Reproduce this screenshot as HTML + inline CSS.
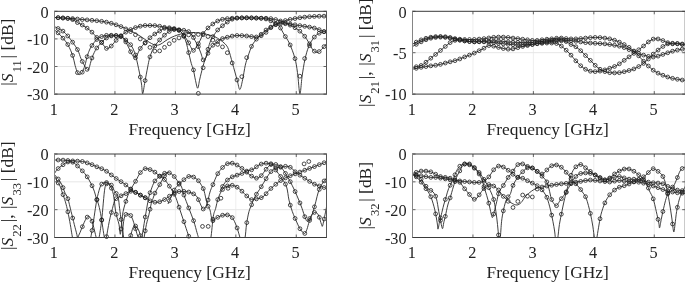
<!DOCTYPE html>
<html><head><meta charset="utf-8"><style>
html,body{margin:0;padding:0;background:#fff;width:685px;height:283px;overflow:hidden}
svg{display:block;font-family:"Liberation Serif", serif;fill:#000;will-change:transform;filter:blur(0.4px)}
text{fill:#222;font-family:"Liberation Serif", serif}
</style></head><body>
<svg width="685" height="283" viewBox="0 0 685 283">
<rect width="100%" height="100%" fill="#fff"/>
<defs><clipPath id="clip1"><rect x="54.50" y="11.30" width="272.00" height="82.80"/></clipPath><clipPath id="clip2"><rect x="412.50" y="11.30" width="272.70" height="82.80"/></clipPath><clipPath id="clip3"><rect x="54.50" y="154.00" width="272.00" height="83.50"/></clipPath><clipPath id="clip4"><rect x="412.50" y="154.00" width="272.70" height="83.50"/></clipPath></defs>
<path d="M114.94,11.30V94.10M175.39,11.30V94.10M235.83,11.30V94.10M296.28,11.30V94.10" stroke="#eeeeee" stroke-width="1" fill="none"/>
<path d="M54.50,38.90H326.50M54.50,66.50H326.50" stroke="#e6e6e6" stroke-width="1" fill="none"/>
<path d="M472.94,11.30V94.10M533.39,11.30V94.10M593.83,11.30V94.10M654.28,11.30V94.10" stroke="#eeeeee" stroke-width="1" fill="none"/>
<path d="M412.50,52.70H685.20" stroke="#e6e6e6" stroke-width="1" fill="none"/>
<path d="M114.94,154.00V237.50M175.39,154.00V237.50M235.83,154.00V237.50M296.28,154.00V237.50" stroke="#eeeeee" stroke-width="1" fill="none"/>
<path d="M54.50,181.83H326.50M54.50,209.67H326.50" stroke="#e6e6e6" stroke-width="1" fill="none"/>
<path d="M472.94,154.00V237.50M533.39,154.00V237.50M593.83,154.00V237.50M654.28,154.00V237.50" stroke="#eeeeee" stroke-width="1" fill="none"/>
<path d="M412.50,181.83H685.20M412.50,209.67H685.20" stroke="#e6e6e6" stroke-width="1" fill="none"/>
<g clip-path="url(#clip1)"><path d="M54.50,17.50C55.92,17.58 59.92,17.82 63.00,18.00C66.08,18.18 69.83,18.35 73.00,18.60C76.17,18.85 78.83,19.22 82.00,19.50C85.17,19.78 88.75,20.00 92.00,20.30C95.25,20.60 98.33,20.82 101.50,21.30C104.67,21.78 107.75,22.32 111.00,23.20C114.25,24.08 117.83,25.38 121.00,26.60C124.17,27.82 126.83,28.93 130.00,30.50C133.17,32.07 137.00,34.17 140.00,36.00C143.00,37.83 145.50,40.00 148.00,41.50C150.50,43.00 153.00,44.50 155.00,45.00C157.00,45.50 158.33,45.13 160.00,44.50C161.67,43.87 163.17,42.35 165.00,41.20C166.83,40.05 168.83,38.67 171.00,37.60C173.17,36.53 175.67,35.57 178.00,34.80C180.33,34.03 182.95,33.37 185.00,33.00C187.05,32.63 188.53,32.67 190.30,32.60C192.07,32.53 193.48,32.45 195.60,32.60C197.72,32.75 200.70,33.08 203.00,33.50C205.30,33.92 207.45,34.57 209.40,35.10C211.35,35.63 212.93,35.92 214.70,36.70C216.47,37.48 218.23,38.57 220.00,39.80C221.77,41.03 223.88,42.50 225.30,44.10C226.72,45.70 227.30,46.18 228.50,49.40C229.70,52.62 231.07,58.32 232.50,63.40C233.93,68.48 235.88,75.55 237.10,79.90C238.32,84.25 238.88,89.50 239.80,89.50C240.72,89.50 241.68,83.95 242.60,79.90C243.52,75.85 244.38,69.18 245.30,65.20C246.22,61.22 246.93,59.35 248.10,56.00C249.27,52.65 250.72,48.10 252.30,45.10C253.88,42.10 255.53,40.35 257.60,38.00C259.67,35.65 262.35,32.90 264.70,31.00C267.05,29.10 269.35,27.93 271.70,26.60C274.05,25.27 276.43,24.03 278.80,23.00C281.17,21.97 283.25,21.13 285.90,20.40C288.55,19.67 292.35,19.05 294.70,18.60C297.05,18.15 297.73,18.00 300.00,17.70C302.27,17.40 305.45,17.03 308.30,16.80C311.15,16.57 314.07,16.42 317.10,16.30C320.13,16.18 324.93,16.13 326.50,16.10" stroke="#2a2a2a" stroke-width="0.9" fill="none"/>
<path d="M54.50,17.50C55.92,17.58 60.75,17.83 63.00,18.00C65.25,18.17 66.40,18.23 68.00,18.50C69.60,18.77 71.05,18.93 72.60,19.60C74.15,20.27 75.72,21.62 77.30,22.50C78.88,23.38 80.50,23.98 82.10,24.90C83.70,25.82 85.32,26.85 86.90,28.00C88.48,29.15 90.02,30.30 91.60,31.80C93.18,33.30 94.75,35.25 96.40,37.00C98.05,38.75 100.18,40.75 101.50,42.30C102.82,43.85 103.38,45.25 104.30,46.30C105.22,47.35 106.05,48.43 107.00,48.60C107.95,48.77 109.00,48.07 110.00,47.30C111.00,46.53 112.00,45.13 113.00,44.00C114.00,42.87 114.83,41.75 116.00,40.50C117.17,39.25 118.30,37.93 120.00,36.50C121.70,35.07 123.98,33.25 126.20,31.90C128.42,30.55 130.95,29.35 133.30,28.40C135.65,27.45 138.35,26.68 140.30,26.20C142.25,25.72 143.38,25.62 145.00,25.50C146.62,25.38 148.35,25.48 150.00,25.50C151.65,25.52 153.25,25.47 154.90,25.60C156.55,25.73 158.25,26.00 159.90,26.30C161.55,26.60 163.15,26.98 164.80,27.40C166.45,27.82 168.10,28.47 169.80,28.80C171.50,29.13 173.30,29.23 175.00,29.40C176.70,29.57 178.50,29.65 180.00,29.80C181.50,29.95 182.63,30.05 184.00,30.30C185.37,30.55 186.87,30.52 188.20,31.30C189.53,32.08 190.87,33.47 192.00,35.00C193.13,36.53 194.03,38.75 195.00,40.50C195.97,42.25 196.83,43.43 197.80,45.50C198.77,47.57 199.80,50.40 200.80,52.90C201.80,55.40 202.65,60.35 203.80,60.50C204.95,60.65 206.55,55.90 207.70,53.80C208.85,51.70 209.63,49.53 210.70,47.90C211.77,46.27 213.05,44.98 214.10,44.00C215.15,43.02 215.82,42.82 217.00,42.00C218.18,41.18 219.32,39.93 221.20,39.10C223.08,38.27 225.95,37.58 228.30,37.00C230.65,36.42 232.95,35.83 235.30,35.60C237.65,35.37 240.03,35.48 242.40,35.60C244.77,35.72 247.38,36.07 249.50,36.30C251.62,36.53 253.35,37.00 255.10,37.00C256.85,37.00 258.25,37.02 260.00,36.30C261.75,35.58 263.65,34.25 265.60,32.70C267.55,31.15 269.63,28.45 271.70,27.00C273.77,25.55 275.15,24.52 278.00,24.00C280.85,23.48 285.52,23.68 288.80,23.90C292.08,24.12 294.75,24.85 297.70,25.30C300.65,25.75 303.57,26.10 306.50,26.60C309.43,27.10 312.65,27.57 315.30,28.30C317.95,29.03 320.53,30.27 322.40,31.00C324.27,31.73 325.82,32.42 326.50,32.70" stroke="#2a2a2a" stroke-width="0.9" fill="none"/>
<path d="M54.50,30.10C55.07,30.53 56.52,31.38 57.90,32.70C59.28,34.02 61.10,35.93 62.80,38.00C64.50,40.07 66.45,42.15 68.10,45.10C69.75,48.05 71.53,52.30 72.70,55.70C73.87,59.10 74.28,62.62 75.10,65.50C75.92,68.38 76.92,71.48 77.60,73.00C78.28,74.52 78.63,74.47 79.20,74.60C79.77,74.73 80.47,74.25 81.00,73.80C81.53,73.35 81.75,73.28 82.40,71.90C83.05,70.52 84.08,68.15 84.90,65.50C85.72,62.85 86.53,58.58 87.30,56.00C88.07,53.42 88.78,51.67 89.50,50.00C90.22,48.33 90.45,47.70 91.60,46.00C92.75,44.30 94.72,41.38 96.40,39.80C98.08,38.22 99.93,37.25 101.70,36.50C103.47,35.75 105.23,35.50 107.00,35.30C108.77,35.10 110.53,35.25 112.30,35.30C114.07,35.35 115.98,35.35 117.60,35.60C119.22,35.85 120.57,36.00 122.00,36.80C123.43,37.60 124.68,38.98 126.20,40.40C127.72,41.82 129.80,43.53 131.10,45.30C132.40,47.07 133.18,49.05 134.00,51.00C134.82,52.95 135.12,53.50 136.00,57.00C136.88,60.50 138.38,67.50 139.30,72.00C140.22,76.50 140.93,80.38 141.50,84.00C142.07,87.62 142.13,94.07 142.70,93.70C143.27,93.33 144.07,86.25 144.90,81.80C145.73,77.35 146.93,70.88 147.70,67.00C148.47,63.12 148.73,61.25 149.50,58.50C150.27,55.75 151.27,52.80 152.30,50.50C153.33,48.20 154.43,46.50 155.70,44.70C156.97,42.90 158.50,41.23 159.90,39.70C161.30,38.17 162.68,36.78 164.10,35.50C165.52,34.22 166.98,32.95 168.40,32.00C169.82,31.05 171.33,30.25 172.60,29.80C173.87,29.35 174.77,29.10 176.00,29.30C177.23,29.50 178.67,29.80 180.00,31.00C181.33,32.20 182.92,34.42 184.00,36.50C185.08,38.58 185.75,40.92 186.50,43.50C187.25,46.08 187.70,48.67 188.50,52.00C189.30,55.33 190.48,60.53 191.30,63.50C192.12,66.47 192.70,66.98 193.40,69.80C194.10,72.62 194.78,77.33 195.50,80.40C196.22,83.47 196.98,88.43 197.70,88.20C198.42,87.97 198.98,82.42 199.80,79.00C200.62,75.58 201.78,70.75 202.60,67.70C203.42,64.65 203.98,62.98 204.70,60.70C205.42,58.42 206.23,56.37 206.90,54.00C207.57,51.63 207.97,48.98 208.70,46.50C209.43,44.02 210.40,41.03 211.30,39.10C212.20,37.17 213.03,36.43 214.10,34.90C215.17,33.37 216.28,31.43 217.70,29.90C219.12,28.37 220.83,27.12 222.60,25.70C224.37,24.28 226.42,22.58 228.30,21.40C230.18,20.22 231.67,19.18 233.90,18.60C236.13,18.02 238.82,18.02 241.70,17.90C244.58,17.78 248.17,17.85 251.20,17.90C254.23,17.95 257.50,18.15 259.90,18.20C262.30,18.25 263.58,18.10 265.60,18.20C267.62,18.30 269.60,18.37 272.00,18.80C274.40,19.23 277.10,19.80 280.00,20.80C282.90,21.80 286.37,23.30 289.40,24.80C292.43,26.30 295.65,27.88 298.20,29.80C300.75,31.72 302.87,34.05 304.70,36.30C306.53,38.55 307.87,41.10 309.20,43.30C310.53,45.50 311.38,47.98 312.70,49.50C314.02,51.02 315.63,52.40 317.10,52.40C318.57,52.40 319.93,50.98 321.50,49.50C323.07,48.02 325.67,44.50 326.50,43.50" stroke="#2a2a2a" stroke-width="0.9" fill="none"/>
<path d="M54.50,26.60C55.07,26.90 56.52,27.67 57.90,28.40C59.28,29.13 61.10,29.68 62.80,31.00C64.50,32.32 66.33,34.25 68.10,36.30C69.87,38.35 71.77,40.95 73.40,43.30C75.03,45.65 76.67,47.93 77.90,50.40C79.13,52.87 79.97,56.05 80.80,58.10C81.63,60.15 82.22,61.33 82.90,62.70C83.58,64.07 84.17,65.17 84.90,66.30C85.63,67.43 86.63,69.10 87.30,69.50C87.97,69.90 88.08,70.73 88.90,68.70C89.72,66.67 90.95,60.65 92.20,57.30C93.45,53.95 94.97,50.93 96.40,48.60C97.83,46.27 99.33,44.92 100.80,43.30C102.27,41.68 103.67,40.08 105.20,38.90C106.73,37.72 108.37,36.72 110.00,36.20C111.63,35.68 113.33,35.80 115.00,35.80C116.67,35.80 118.50,35.67 120.00,36.20C121.50,36.73 122.60,37.20 124.00,39.00C125.40,40.80 127.07,44.42 128.40,47.00C129.73,49.58 130.93,52.68 132.00,54.50C133.07,56.32 134.03,57.65 134.80,57.90C135.57,58.15 135.80,57.38 136.60,56.00C137.40,54.62 138.67,51.28 139.60,49.60C140.53,47.92 141.25,47.08 142.20,45.90C143.15,44.72 143.97,43.90 145.30,42.50C146.63,41.10 148.62,38.92 150.20,37.50C151.78,36.08 153.27,35.05 154.80,34.00C156.33,32.95 157.85,32.13 159.40,31.20C160.95,30.27 162.33,28.97 164.10,28.40C165.87,27.83 168.18,27.73 170.00,27.80C171.82,27.87 173.33,28.27 175.00,28.80C176.67,29.33 178.50,29.88 180.00,31.00C181.50,32.12 182.72,33.83 184.00,35.50C185.28,37.17 186.62,39.17 187.70,41.00C188.78,42.83 189.55,44.93 190.50,46.50C191.45,48.07 192.27,50.58 193.40,50.40C194.53,50.22 196.07,47.30 197.30,45.40C198.53,43.50 199.87,40.92 200.80,39.00C201.73,37.08 201.72,35.73 202.90,33.90C204.08,32.07 206.25,29.65 207.90,28.00C209.55,26.35 211.17,25.17 212.80,24.00C214.43,22.83 216.07,21.78 217.70,21.00C219.33,20.22 220.95,19.70 222.60,19.30C224.25,18.90 225.95,18.78 227.60,18.60C229.25,18.42 230.15,18.32 232.50,18.20C234.85,18.08 238.58,17.95 241.70,17.90C244.82,17.85 248.17,17.85 251.20,17.90C254.23,17.95 257.65,18.08 259.90,18.20C262.15,18.32 262.73,18.08 264.70,18.60C266.67,19.12 269.35,20.12 271.70,21.30C274.05,22.48 276.73,23.50 278.80,25.70C280.87,27.90 282.33,31.57 284.10,34.50C285.87,37.43 287.62,39.40 289.40,43.30C291.18,47.20 293.45,53.02 294.80,57.90C296.15,62.78 296.65,66.63 297.50,72.60C298.35,78.57 299.13,93.10 299.90,93.70C300.67,94.30 301.27,81.87 302.10,76.20C302.93,70.53 303.82,64.60 304.90,59.70C305.98,54.80 307.15,50.42 308.60,46.80C310.05,43.18 311.95,40.20 313.60,38.00C315.25,35.80 316.88,34.62 318.50,33.60C320.12,32.58 321.97,32.33 323.30,31.90C324.63,31.47 325.97,31.15 326.50,31.00" stroke="#2a2a2a" stroke-width="0.9" fill="none"/></g><path d="M56.20,17.71a1.9,1.9 0 1,0 3.80,0a1.9,1.9 0 1,0 -3.80,0M61.04,18.00a1.9,1.9 0 1,0 3.80,0a1.9,1.9 0 1,0 -3.80,0M65.87,18.26a1.9,1.9 0 1,0 3.80,0a1.9,1.9 0 1,0 -3.80,0M70.70,18.57a1.9,1.9 0 1,0 3.80,0a1.9,1.9 0 1,0 -3.80,0M75.54,19.03a1.9,1.9 0 1,0 3.80,0a1.9,1.9 0 1,0 -3.80,0M80.37,19.52a1.9,1.9 0 1,0 3.80,0a1.9,1.9 0 1,0 -3.80,0M85.21,19.90a1.9,1.9 0 1,0 3.80,0a1.9,1.9 0 1,0 -3.80,0M90.04,20.30a1.9,1.9 0 1,0 3.80,0a1.9,1.9 0 1,0 -3.80,0M94.88,20.73a1.9,1.9 0 1,0 3.80,0a1.9,1.9 0 1,0 -3.80,0M99.71,21.32a1.9,1.9 0 1,0 3.80,0a1.9,1.9 0 1,0 -3.80,0M104.55,22.15a1.9,1.9 0 1,0 3.80,0a1.9,1.9 0 1,0 -3.80,0M109.38,23.28a1.9,1.9 0 1,0 3.80,0a1.9,1.9 0 1,0 -3.80,0M114.22,24.81a1.9,1.9 0 1,0 3.80,0a1.9,1.9 0 1,0 -3.80,0M119.05,26.58a1.9,1.9 0 1,0 3.80,0a1.9,1.9 0 1,0 -3.80,0M123.89,28.89a1.9,1.9 0 1,0 3.80,0a1.9,1.9 0 1,0 -3.80,0M128.72,31.58a1.9,1.9 0 1,0 3.80,0a1.9,1.9 0 1,0 -3.80,0M133.56,34.75a1.9,1.9 0 1,0 3.80,0a1.9,1.9 0 1,0 -3.80,0M138.39,38.95a1.9,1.9 0 1,0 3.80,0a1.9,1.9 0 1,0 -3.80,0M143.23,43.11a1.9,1.9 0 1,0 3.80,0a1.9,1.9 0 1,0 -3.80,0M148.06,47.37a1.9,1.9 0 1,0 3.80,0a1.9,1.9 0 1,0 -3.80,0M152.90,51.11a1.9,1.9 0 1,0 3.80,0a1.9,1.9 0 1,0 -3.80,0M157.73,50.91a1.9,1.9 0 1,0 3.80,0a1.9,1.9 0 1,0 -3.80,0M162.57,47.35a1.9,1.9 0 1,0 3.80,0a1.9,1.9 0 1,0 -3.80,0M167.40,43.78a1.9,1.9 0 1,0 3.80,0a1.9,1.9 0 1,0 -3.80,0M172.24,40.32a1.9,1.9 0 1,0 3.80,0a1.9,1.9 0 1,0 -3.80,0M177.07,37.93a1.9,1.9 0 1,0 3.80,0a1.9,1.9 0 1,0 -3.80,0M181.91,36.12a1.9,1.9 0 1,0 3.80,0a1.9,1.9 0 1,0 -3.80,0M186.75,34.93a1.9,1.9 0 1,0 3.80,0a1.9,1.9 0 1,0 -3.80,0M191.58,34.41a1.9,1.9 0 1,0 3.80,0a1.9,1.9 0 1,0 -3.80,0M196.42,34.46a1.9,1.9 0 1,0 3.80,0a1.9,1.9 0 1,0 -3.80,0M201.25,34.79a1.9,1.9 0 1,0 3.80,0a1.9,1.9 0 1,0 -3.80,0M206.09,36.55a1.9,1.9 0 1,0 3.80,0a1.9,1.9 0 1,0 -3.80,0M210.92,40.17a1.9,1.9 0 1,0 3.80,0a1.9,1.9 0 1,0 -3.80,0M215.76,44.40a1.9,1.9 0 1,0 3.80,0a1.9,1.9 0 1,0 -3.80,0M220.59,46.88a1.9,1.9 0 1,0 3.80,0a1.9,1.9 0 1,0 -3.80,0M225.43,52.74a1.9,1.9 0 1,0 3.80,0a1.9,1.9 0 1,0 -3.80,0M230.26,62.97a1.9,1.9 0 1,0 3.80,0a1.9,1.9 0 1,0 -3.80,0M235.10,79.96a1.9,1.9 0 1,0 3.80,0a1.9,1.9 0 1,0 -3.80,0M239.93,76.67a1.9,1.9 0 1,0 3.80,0a1.9,1.9 0 1,0 -3.80,0M244.77,57.66a1.9,1.9 0 1,0 3.80,0a1.9,1.9 0 1,0 -3.80,0M249.60,46.37a1.9,1.9 0 1,0 3.80,0a1.9,1.9 0 1,0 -3.80,0M254.44,39.16a1.9,1.9 0 1,0 3.80,0a1.9,1.9 0 1,0 -3.80,0M259.27,34.31a1.9,1.9 0 1,0 3.80,0a1.9,1.9 0 1,0 -3.80,0M264.11,30.01a1.9,1.9 0 1,0 3.80,0a1.9,1.9 0 1,0 -3.80,0M268.94,27.08a1.9,1.9 0 1,0 3.80,0a1.9,1.9 0 1,0 -3.80,0M273.78,24.47a1.9,1.9 0 1,0 3.80,0a1.9,1.9 0 1,0 -3.80,0M278.61,22.27a1.9,1.9 0 1,0 3.80,0a1.9,1.9 0 1,0 -3.80,0M283.44,20.56a1.9,1.9 0 1,0 3.80,0a1.9,1.9 0 1,0 -3.80,0M288.28,19.44a1.9,1.9 0 1,0 3.80,0a1.9,1.9 0 1,0 -3.80,0M293.11,18.54a1.9,1.9 0 1,0 3.80,0a1.9,1.9 0 1,0 -3.80,0M297.95,17.72a1.9,1.9 0 1,0 3.80,0a1.9,1.9 0 1,0 -3.80,0M302.78,17.14a1.9,1.9 0 1,0 3.80,0a1.9,1.9 0 1,0 -3.80,0M307.62,16.71a1.9,1.9 0 1,0 3.80,0a1.9,1.9 0 1,0 -3.80,0M312.45,16.42a1.9,1.9 0 1,0 3.80,0a1.9,1.9 0 1,0 -3.80,0M317.29,16.24a1.9,1.9 0 1,0 3.80,0a1.9,1.9 0 1,0 -3.80,0M322.12,16.14a1.9,1.9 0 1,0 3.80,0a1.9,1.9 0 1,0 -3.80,0M56.20,17.70a1.9,1.9 0 1,0 3.80,0a1.9,1.9 0 1,0 -3.80,0M61.04,18.00a1.9,1.9 0 1,0 3.80,0a1.9,1.9 0 1,0 -3.80,0M65.87,18.46a1.9,1.9 0 1,0 3.80,0a1.9,1.9 0 1,0 -3.80,0M70.70,19.60a1.9,1.9 0 1,0 3.80,0a1.9,1.9 0 1,0 -3.80,0M75.54,22.58a1.9,1.9 0 1,0 3.80,0a1.9,1.9 0 1,0 -3.80,0M80.37,25.00a1.9,1.9 0 1,0 3.80,0a1.9,1.9 0 1,0 -3.80,0M85.21,28.15a1.9,1.9 0 1,0 3.80,0a1.9,1.9 0 1,0 -3.80,0M90.04,32.13a1.9,1.9 0 1,0 3.80,0a1.9,1.9 0 1,0 -3.80,0M94.88,37.40a1.9,1.9 0 1,0 3.80,0a1.9,1.9 0 1,0 -3.80,0M99.71,42.44a1.9,1.9 0 1,0 3.80,0a1.9,1.9 0 1,0 -3.80,0M104.55,48.40a1.9,1.9 0 1,0 3.80,0a1.9,1.9 0 1,0 -3.80,0M109.38,46.04a1.9,1.9 0 1,0 3.80,0a1.9,1.9 0 1,0 -3.80,0M114.22,40.37a1.9,1.9 0 1,0 3.80,0a1.9,1.9 0 1,0 -3.80,0M119.05,35.71a1.9,1.9 0 1,0 3.80,0a1.9,1.9 0 1,0 -3.80,0M123.89,32.15a1.9,1.9 0 1,0 3.80,0a1.9,1.9 0 1,0 -3.80,0M128.72,29.56a1.9,1.9 0 1,0 3.80,0a1.9,1.9 0 1,0 -3.80,0M133.56,27.60a1.9,1.9 0 1,0 3.80,0a1.9,1.9 0 1,0 -3.80,0M138.39,26.20a1.9,1.9 0 1,0 3.80,0a1.9,1.9 0 1,0 -3.80,0M143.23,25.49a1.9,1.9 0 1,0 3.80,0a1.9,1.9 0 1,0 -3.80,0M148.06,25.50a1.9,1.9 0 1,0 3.80,0a1.9,1.9 0 1,0 -3.80,0M152.90,25.59a1.9,1.9 0 1,0 3.80,0a1.9,1.9 0 1,0 -3.80,0M157.73,26.25a1.9,1.9 0 1,0 3.80,0a1.9,1.9 0 1,0 -3.80,0M162.57,27.32a1.9,1.9 0 1,0 3.80,0a1.9,1.9 0 1,0 -3.80,0M167.40,28.69a1.9,1.9 0 1,0 3.80,0a1.9,1.9 0 1,0 -3.80,0M172.24,29.32a1.9,1.9 0 1,0 3.80,0a1.9,1.9 0 1,0 -3.80,0M177.07,29.71a1.9,1.9 0 1,0 3.80,0a1.9,1.9 0 1,0 -3.80,0M181.91,30.27a1.9,1.9 0 1,0 3.80,0a1.9,1.9 0 1,0 -3.80,0M186.75,31.58a1.9,1.9 0 1,0 3.80,0a1.9,1.9 0 1,0 -3.80,0M191.58,37.51a1.9,1.9 0 1,0 3.80,0a1.9,1.9 0 1,0 -3.80,0M196.42,46.65a1.9,1.9 0 1,0 3.80,0a1.9,1.9 0 1,0 -3.80,0M201.25,59.90a1.9,1.9 0 1,0 3.80,0a1.9,1.9 0 1,0 -3.80,0M206.09,53.26a1.9,1.9 0 1,0 3.80,0a1.9,1.9 0 1,0 -3.80,0M210.92,45.26a1.9,1.9 0 1,0 3.80,0a1.9,1.9 0 1,0 -3.80,0M215.76,41.51a1.9,1.9 0 1,0 3.80,0a1.9,1.9 0 1,0 -3.80,0M220.59,38.60a1.9,1.9 0 1,0 3.80,0a1.9,1.9 0 1,0 -3.80,0M225.43,37.24a1.9,1.9 0 1,0 3.80,0a1.9,1.9 0 1,0 -3.80,0M230.26,36.09a1.9,1.9 0 1,0 3.80,0a1.9,1.9 0 1,0 -3.80,0M235.10,35.49a1.9,1.9 0 1,0 3.80,0a1.9,1.9 0 1,0 -3.80,0M239.93,35.57a1.9,1.9 0 1,0 3.80,0a1.9,1.9 0 1,0 -3.80,0M244.77,35.97a1.9,1.9 0 1,0 3.80,0a1.9,1.9 0 1,0 -3.80,0M249.60,36.58a1.9,1.9 0 1,0 3.80,0a1.9,1.9 0 1,0 -3.80,0M254.44,36.99a1.9,1.9 0 1,0 3.80,0a1.9,1.9 0 1,0 -3.80,0M259.27,35.74a1.9,1.9 0 1,0 3.80,0a1.9,1.9 0 1,0 -3.80,0M264.11,32.36a1.9,1.9 0 1,0 3.80,0a1.9,1.9 0 1,0 -3.80,0M268.94,27.67a1.9,1.9 0 1,0 3.80,0a1.9,1.9 0 1,0 -3.80,0M273.78,24.64a1.9,1.9 0 1,0 3.80,0a1.9,1.9 0 1,0 -3.80,0M278.61,23.73a1.9,1.9 0 1,0 3.80,0a1.9,1.9 0 1,0 -3.80,0M283.44,23.72a1.9,1.9 0 1,0 3.80,0a1.9,1.9 0 1,0 -3.80,0M288.28,24.02a1.9,1.9 0 1,0 3.80,0a1.9,1.9 0 1,0 -3.80,0M293.11,24.82a1.9,1.9 0 1,0 3.80,0a1.9,1.9 0 1,0 -3.80,0M297.95,25.61a1.9,1.9 0 1,0 3.80,0a1.9,1.9 0 1,0 -3.80,0M302.78,26.31a1.9,1.9 0 1,0 3.80,0a1.9,1.9 0 1,0 -3.80,0M307.62,27.10a1.9,1.9 0 1,0 3.80,0a1.9,1.9 0 1,0 -3.80,0M312.45,28.06a1.9,1.9 0 1,0 3.80,0a1.9,1.9 0 1,0 -3.80,0M317.29,29.67a1.9,1.9 0 1,0 3.80,0a1.9,1.9 0 1,0 -3.80,0M322.12,31.66a1.9,1.9 0 1,0 3.80,0a1.9,1.9 0 1,0 -3.80,0M56.20,32.89a1.9,1.9 0 1,0 3.80,0a1.9,1.9 0 1,0 -3.80,0M61.04,38.16a1.9,1.9 0 1,0 3.80,0a1.9,1.9 0 1,0 -3.80,0M65.87,44.53a1.9,1.9 0 1,0 3.80,0a1.9,1.9 0 1,0 -3.80,0M70.70,55.43a1.9,1.9 0 1,0 3.80,0a1.9,1.9 0 1,0 -3.80,0M75.54,72.63a1.9,1.9 0 1,0 3.80,0a1.9,1.9 0 1,0 -3.80,0M80.37,72.16a1.9,1.9 0 1,0 3.80,0a1.9,1.9 0 1,0 -3.80,0M85.21,56.67a1.9,1.9 0 1,0 3.80,0a1.9,1.9 0 1,0 -3.80,0M90.04,45.49a1.9,1.9 0 1,0 3.80,0a1.9,1.9 0 1,0 -3.80,0M94.88,39.46a1.9,1.9 0 1,0 3.80,0a1.9,1.9 0 1,0 -3.80,0M99.71,36.54a1.9,1.9 0 1,0 3.80,0a1.9,1.9 0 1,0 -3.80,0M104.55,35.36a1.9,1.9 0 1,0 3.80,0a1.9,1.9 0 1,0 -3.80,0M109.38,35.26a1.9,1.9 0 1,0 3.80,0a1.9,1.9 0 1,0 -3.80,0M114.22,35.44a1.9,1.9 0 1,0 3.80,0a1.9,1.9 0 1,0 -3.80,0M119.05,36.32a1.9,1.9 0 1,0 3.80,0a1.9,1.9 0 1,0 -3.80,0M123.89,40.01a1.9,1.9 0 1,0 3.80,0a1.9,1.9 0 1,0 -3.80,0M128.72,44.70a1.9,1.9 0 1,0 3.80,0a1.9,1.9 0 1,0 -3.80,0M133.56,54.97a1.9,1.9 0 1,0 3.80,0a1.9,1.9 0 1,0 -3.80,0M138.39,77.06a1.9,1.9 0 1,0 3.80,0a1.9,1.9 0 1,0 -3.80,0M143.23,80.57a1.9,1.9 0 1,0 3.80,0a1.9,1.9 0 1,0 -3.80,0M148.06,56.90a1.9,1.9 0 1,0 3.80,0a1.9,1.9 0 1,0 -3.80,0M152.90,46.01a1.9,1.9 0 1,0 3.80,0a1.9,1.9 0 1,0 -3.80,0M157.73,39.99a1.9,1.9 0 1,0 3.80,0a1.9,1.9 0 1,0 -3.80,0M162.57,35.17a1.9,1.9 0 1,0 3.80,0a1.9,1.9 0 1,0 -3.80,0M167.40,31.42a1.9,1.9 0 1,0 3.80,0a1.9,1.9 0 1,0 -3.80,0M172.24,29.34a1.9,1.9 0 1,0 3.80,0a1.9,1.9 0 1,0 -3.80,0M177.07,30.25a1.9,1.9 0 1,0 3.80,0a1.9,1.9 0 1,0 -3.80,0M181.91,36.14a1.9,1.9 0 1,0 3.80,0a1.9,1.9 0 1,0 -3.80,0M186.75,52.61a1.9,1.9 0 1,0 3.80,0a1.9,1.9 0 1,0 -3.80,0M191.58,69.92a1.9,1.9 0 1,0 3.80,0a1.9,1.9 0 1,0 -3.80,0M196.42,93.36a1.9,1.9 0 1,0 3.80,0a1.9,1.9 0 1,0 -3.80,0M201.25,67.74a1.9,1.9 0 1,0 3.80,0a1.9,1.9 0 1,0 -3.80,0M206.09,49.29a1.9,1.9 0 1,0 3.80,0a1.9,1.9 0 1,0 -3.80,0M210.92,36.61a1.9,1.9 0 1,0 3.80,0a1.9,1.9 0 1,0 -3.80,0M215.76,29.95a1.9,1.9 0 1,0 3.80,0a1.9,1.9 0 1,0 -3.80,0M220.59,25.79a1.9,1.9 0 1,0 3.80,0a1.9,1.9 0 1,0 -3.80,0M225.43,22.05a1.9,1.9 0 1,0 3.80,0a1.9,1.9 0 1,0 -3.80,0M230.26,19.20a1.9,1.9 0 1,0 3.80,0a1.9,1.9 0 1,0 -3.80,0M235.10,18.12a1.9,1.9 0 1,0 3.80,0a1.9,1.9 0 1,0 -3.80,0M239.93,17.90a1.9,1.9 0 1,0 3.80,0a1.9,1.9 0 1,0 -3.80,0M244.77,17.84a1.9,1.9 0 1,0 3.80,0a1.9,1.9 0 1,0 -3.80,0M249.60,17.91a1.9,1.9 0 1,0 3.80,0a1.9,1.9 0 1,0 -3.80,0M254.44,18.07a1.9,1.9 0 1,0 3.80,0a1.9,1.9 0 1,0 -3.80,0M259.27,18.21a1.9,1.9 0 1,0 3.80,0a1.9,1.9 0 1,0 -3.80,0M264.11,18.22a1.9,1.9 0 1,0 3.80,0a1.9,1.9 0 1,0 -3.80,0M268.94,18.61a1.9,1.9 0 1,0 3.80,0a1.9,1.9 0 1,0 -3.80,0M273.78,19.56a1.9,1.9 0 1,0 3.80,0a1.9,1.9 0 1,0 -3.80,0M278.61,20.98a1.9,1.9 0 1,0 3.80,0a1.9,1.9 0 1,0 -3.80,0M283.44,22.91a1.9,1.9 0 1,0 3.80,0a1.9,1.9 0 1,0 -3.80,0M288.28,25.19a1.9,1.9 0 1,0 3.80,0a1.9,1.9 0 1,0 -3.80,0M293.11,27.73a1.9,1.9 0 1,0 3.80,0a1.9,1.9 0 1,0 -3.80,0M297.95,31.15a1.9,1.9 0 1,0 3.80,0a1.9,1.9 0 1,0 -3.80,0M302.78,36.28a1.9,1.9 0 1,0 3.80,0a1.9,1.9 0 1,0 -3.80,0M307.62,43.85a1.9,1.9 0 1,0 3.80,0a1.9,1.9 0 1,0 -3.80,0M312.45,51.14a1.9,1.9 0 1,0 3.80,0a1.9,1.9 0 1,0 -3.80,0M317.29,51.56a1.9,1.9 0 1,0 3.80,0a1.9,1.9 0 1,0 -3.80,0M322.12,46.63a1.9,1.9 0 1,0 3.80,0a1.9,1.9 0 1,0 -3.80,0M56.20,28.50a1.9,1.9 0 1,0 3.80,0a1.9,1.9 0 1,0 -3.80,0M61.04,31.11a1.9,1.9 0 1,0 3.80,0a1.9,1.9 0 1,0 -3.80,0M65.87,35.92a1.9,1.9 0 1,0 3.80,0a1.9,1.9 0 1,0 -3.80,0M70.70,42.17a1.9,1.9 0 1,0 3.80,0a1.9,1.9 0 1,0 -3.80,0M75.54,49.52a1.9,1.9 0 1,0 3.80,0a1.9,1.9 0 1,0 -3.80,0M80.37,61.43a1.9,1.9 0 1,0 3.80,0a1.9,1.9 0 1,0 -3.80,0M85.21,69.36a1.9,1.9 0 1,0 3.80,0a1.9,1.9 0 1,0 -3.80,0M90.04,58.02a1.9,1.9 0 1,0 3.80,0a1.9,1.9 0 1,0 -3.80,0M94.88,48.01a1.9,1.9 0 1,0 3.80,0a1.9,1.9 0 1,0 -3.80,0M99.71,42.40a1.9,1.9 0 1,0 3.80,0a1.9,1.9 0 1,0 -3.80,0M104.55,38.00a1.9,1.9 0 1,0 3.80,0a1.9,1.9 0 1,0 -3.80,0M109.38,35.91a1.9,1.9 0 1,0 3.80,0a1.9,1.9 0 1,0 -3.80,0M114.22,35.79a1.9,1.9 0 1,0 3.80,0a1.9,1.9 0 1,0 -3.80,0M119.05,36.56a1.9,1.9 0 1,0 3.80,0a1.9,1.9 0 1,0 -3.80,0M123.89,41.89a1.9,1.9 0 1,0 3.80,0a1.9,1.9 0 1,0 -3.80,0M128.72,51.75a1.9,1.9 0 1,0 3.80,0a1.9,1.9 0 1,0 -3.80,0M133.56,57.80a1.9,1.9 0 1,0 3.80,0a1.9,1.9 0 1,0 -3.80,0M138.39,48.43a1.9,1.9 0 1,0 3.80,0a1.9,1.9 0 1,0 -3.80,0M143.23,42.68a1.9,1.9 0 1,0 3.80,0a1.9,1.9 0 1,0 -3.80,0M148.06,37.71a1.9,1.9 0 1,0 3.80,0a1.9,1.9 0 1,0 -3.80,0M152.90,34.00a1.9,1.9 0 1,0 3.80,0a1.9,1.9 0 1,0 -3.80,0M157.73,31.06a1.9,1.9 0 1,0 3.80,0a1.9,1.9 0 1,0 -3.80,0M162.57,28.29a1.9,1.9 0 1,0 3.80,0a1.9,1.9 0 1,0 -3.80,0M167.40,27.78a1.9,1.9 0 1,0 3.80,0a1.9,1.9 0 1,0 -3.80,0M172.24,28.53a1.9,1.9 0 1,0 3.80,0a1.9,1.9 0 1,0 -3.80,0M177.07,30.34a1.9,1.9 0 1,0 3.80,0a1.9,1.9 0 1,0 -3.80,0M181.91,35.25a1.9,1.9 0 1,0 3.80,0a1.9,1.9 0 1,0 -3.80,0M186.75,42.79a1.9,1.9 0 1,0 3.80,0a1.9,1.9 0 1,0 -3.80,0M191.58,50.38a1.9,1.9 0 1,0 3.80,0a1.9,1.9 0 1,0 -3.80,0M196.42,43.73a1.9,1.9 0 1,0 3.80,0a1.9,1.9 0 1,0 -3.80,0M201.25,33.53a1.9,1.9 0 1,0 3.80,0a1.9,1.9 0 1,0 -3.80,0M206.09,27.92a1.9,1.9 0 1,0 3.80,0a1.9,1.9 0 1,0 -3.80,0M210.92,23.99a1.9,1.9 0 1,0 3.80,0a1.9,1.9 0 1,0 -3.80,0M215.76,21.02a1.9,1.9 0 1,0 3.80,0a1.9,1.9 0 1,0 -3.80,0M220.59,19.33a1.9,1.9 0 1,0 3.80,0a1.9,1.9 0 1,0 -3.80,0M225.43,18.63a1.9,1.9 0 1,0 3.80,0a1.9,1.9 0 1,0 -3.80,0M230.26,18.22a1.9,1.9 0 1,0 3.80,0a1.9,1.9 0 1,0 -3.80,0M235.10,18.02a1.9,1.9 0 1,0 3.80,0a1.9,1.9 0 1,0 -3.80,0M239.93,17.90a1.9,1.9 0 1,0 3.80,0a1.9,1.9 0 1,0 -3.80,0M244.77,17.86a1.9,1.9 0 1,0 3.80,0a1.9,1.9 0 1,0 -3.80,0M249.60,17.91a1.9,1.9 0 1,0 3.80,0a1.9,1.9 0 1,0 -3.80,0M254.44,18.04a1.9,1.9 0 1,0 3.80,0a1.9,1.9 0 1,0 -3.80,0M259.27,18.24a1.9,1.9 0 1,0 3.80,0a1.9,1.9 0 1,0 -3.80,0M264.11,18.98a1.9,1.9 0 1,0 3.80,0a1.9,1.9 0 1,0 -3.80,0M268.94,20.88a1.9,1.9 0 1,0 3.80,0a1.9,1.9 0 1,0 -3.80,0M273.78,23.30a1.9,1.9 0 1,0 3.80,0a1.9,1.9 0 1,0 -3.80,0M278.61,28.00a1.9,1.9 0 1,0 3.80,0a1.9,1.9 0 1,0 -3.80,0M283.44,36.52a1.9,1.9 0 1,0 3.80,0a1.9,1.9 0 1,0 -3.80,0M288.28,44.97a1.9,1.9 0 1,0 3.80,0a1.9,1.9 0 1,0 -3.80,0M293.11,58.66a1.9,1.9 0 1,0 3.80,0a1.9,1.9 0 1,0 -3.80,0M297.95,76.18a1.9,1.9 0 1,0 3.80,0a1.9,1.9 0 1,0 -3.80,0M302.78,58.52a1.9,1.9 0 1,0 3.80,0a1.9,1.9 0 1,0 -3.80,0M307.62,45.61a1.9,1.9 0 1,0 3.80,0a1.9,1.9 0 1,0 -3.80,0M312.45,37.05a1.9,1.9 0 1,0 3.80,0a1.9,1.9 0 1,0 -3.80,0M317.29,33.22a1.9,1.9 0 1,0 3.80,0a1.9,1.9 0 1,0 -3.80,0M322.12,31.67a1.9,1.9 0 1,0 3.80,0a1.9,1.9 0 1,0 -3.80,0" stroke="#1e1e1e" stroke-width="0.8" fill="none"/>
<g clip-path="url(#clip2)"><path d="M412.50,44.10C413.88,43.42 417.93,41.12 420.80,40.00C423.67,38.88 426.75,37.98 429.70,37.40C432.65,36.82 435.57,36.57 438.50,36.50C441.43,36.43 444.35,36.62 447.30,37.00C450.25,37.38 453.25,38.38 456.20,38.80C459.15,39.22 461.87,39.40 465.00,39.50C468.13,39.60 471.67,39.57 475.00,39.40C478.33,39.23 481.67,38.87 485.00,38.50C488.33,38.13 491.67,37.42 495.00,37.20C498.33,36.98 501.67,37.02 505.00,37.20C508.33,37.38 511.67,37.92 515.00,38.30C518.33,38.68 521.67,39.13 525.00,39.50C528.33,39.87 531.67,40.52 535.00,40.50C538.33,40.48 542.17,39.68 545.00,39.40C547.83,39.12 549.50,39.03 552.00,38.80C554.50,38.57 557.20,38.00 560.00,38.00C562.80,38.00 565.85,38.67 568.80,38.80C571.75,38.93 574.75,38.93 577.70,38.80C580.65,38.67 583.57,38.23 586.50,38.00C589.43,37.77 592.35,37.40 595.30,37.40C598.25,37.40 601.25,37.62 604.20,38.00C607.15,38.38 610.07,38.82 613.00,39.70C615.93,40.58 618.85,41.83 621.80,43.30C624.75,44.77 628.17,46.72 630.70,48.50C633.23,50.28 634.75,51.77 637.00,54.00C639.25,56.23 641.38,59.12 644.20,61.90C647.02,64.68 650.67,68.43 653.90,70.70C657.13,72.97 660.37,74.20 663.60,75.50C666.83,76.80 669.65,77.67 673.30,78.50C676.95,79.33 683.47,80.17 685.50,80.50" stroke="#2a2a2a" stroke-width="0.9" fill="none"/>
<path d="M412.50,46.50C413.88,45.75 417.93,43.33 420.80,42.00C423.67,40.67 426.75,39.30 429.70,38.50C432.65,37.70 435.57,37.35 438.50,37.20C441.43,37.05 444.35,37.22 447.30,37.60C450.25,37.98 453.25,38.93 456.20,39.50C459.15,40.07 462.07,40.62 465.00,41.00C467.93,41.38 470.85,41.72 473.80,41.80C476.75,41.88 480.00,41.63 482.70,41.50C485.40,41.37 487.12,41.08 490.00,41.00C492.88,40.92 496.67,40.83 500.00,41.00C503.33,41.17 506.67,41.75 510.00,42.00C513.33,42.25 516.67,42.42 520.00,42.50C523.33,42.58 526.67,42.67 530.00,42.50C533.33,42.33 536.67,41.83 540.00,41.50C543.33,41.17 546.67,40.80 550.00,40.50C553.33,40.20 556.87,39.68 560.00,39.70C563.13,39.72 565.85,40.30 568.80,40.60C571.75,40.90 574.75,41.15 577.70,41.50C580.65,41.85 583.57,42.40 586.50,42.70C589.43,43.00 592.35,43.12 595.30,43.30C598.25,43.48 601.25,43.52 604.20,43.80C607.15,44.08 610.07,44.50 613.00,45.00C615.93,45.50 618.97,45.97 621.80,46.80C624.63,47.63 627.63,49.05 630.00,50.00C632.37,50.95 633.50,51.58 636.00,52.50C638.50,53.42 642.02,54.75 645.00,55.50C647.98,56.25 650.80,57.22 653.90,57.00C657.00,56.78 660.37,55.20 663.60,54.20C666.83,53.20 669.65,51.95 673.30,51.00C676.95,50.05 683.47,48.92 685.50,48.50" stroke="#2a2a2a" stroke-width="0.9" fill="none"/>
<path d="M412.50,67.40C413.88,67.10 418.53,66.48 420.80,65.60C423.07,64.72 424.33,63.42 426.10,62.10C427.87,60.78 429.77,59.02 431.40,57.70C433.03,56.38 434.42,55.38 435.90,54.20C437.38,53.02 438.68,51.93 440.30,50.60C441.92,49.27 443.98,47.52 445.60,46.20C447.22,44.88 448.53,43.65 450.00,42.70C451.47,41.75 452.78,40.95 454.40,40.50C456.02,40.05 457.93,39.93 459.70,40.00C461.47,40.07 462.65,40.60 465.00,40.90C467.35,41.20 470.85,41.65 473.80,41.80C476.75,41.95 479.67,41.68 482.70,41.80C485.73,41.92 489.12,42.22 492.00,42.50C494.88,42.78 497.00,43.17 500.00,43.50C503.00,43.83 506.67,44.25 510.00,44.50C513.33,44.75 516.67,45.00 520.00,45.00C523.33,45.00 526.67,44.75 530.00,44.50C533.33,44.25 536.67,43.75 540.00,43.50C543.33,43.25 547.00,42.92 550.00,43.00C553.00,43.08 555.45,42.93 558.00,44.00C560.55,45.07 563.20,47.62 565.30,49.40C567.40,51.18 568.83,52.78 570.60,54.70C572.37,56.62 574.13,58.98 575.90,60.90C577.67,62.82 579.43,64.72 581.20,66.20C582.97,67.68 584.73,68.92 586.50,69.80C588.27,70.68 590.03,71.22 591.80,71.50C593.57,71.78 595.33,71.65 597.10,71.50C598.87,71.35 600.63,71.03 602.40,70.60C604.17,70.17 605.93,69.48 607.70,68.90C609.47,68.32 611.23,67.83 613.00,67.10C614.77,66.37 616.35,65.68 618.30,64.50C620.25,63.32 622.02,61.92 624.70,60.00C627.38,58.08 631.15,55.42 634.40,53.00C637.65,50.58 641.77,47.42 644.20,45.50C646.63,43.58 647.45,42.58 649.00,41.50C650.55,40.42 651.95,39.42 653.50,39.00C655.05,38.58 656.72,38.73 658.30,39.00C659.88,39.27 661.42,39.98 663.00,40.60C664.58,41.22 666.20,42.17 667.80,42.70C669.40,43.23 671.02,43.62 672.60,43.80C674.18,43.98 675.15,43.60 677.30,43.80C679.45,44.00 684.13,44.80 685.50,45.00" stroke="#2a2a2a" stroke-width="0.9" fill="none"/>
<path d="M412.50,69.20C413.88,68.90 417.93,67.93 420.80,67.40C423.67,66.87 426.75,66.43 429.70,66.00C432.65,65.57 435.57,65.38 438.50,64.80C441.43,64.22 444.35,63.25 447.30,62.50C450.25,61.75 453.25,61.25 456.20,60.30C459.15,59.35 462.07,57.97 465.00,56.80C467.93,55.63 470.85,54.62 473.80,53.30C476.75,51.98 480.17,50.20 482.70,48.90C485.23,47.60 486.95,45.90 489.00,45.50C491.05,45.10 493.17,46.12 495.00,46.50C496.83,46.88 498.33,47.42 500.00,47.80C501.67,48.18 503.33,48.57 505.00,48.80C506.67,49.03 508.33,49.25 510.00,49.20C511.67,49.15 513.33,48.87 515.00,48.50C516.67,48.13 518.33,47.42 520.00,47.00C521.67,46.58 523.33,46.33 525.00,46.00C526.67,45.67 527.50,45.50 530.00,45.00C532.50,44.50 536.67,43.58 540.00,43.00C543.33,42.42 546.67,41.87 550.00,41.50C553.33,41.13 557.33,40.80 560.00,40.80C562.67,40.80 564.33,40.97 566.00,41.50C567.67,42.03 568.35,43.12 570.00,44.00C571.65,44.88 574.03,45.60 575.90,46.80C577.77,48.00 579.43,49.58 581.20,51.20C582.97,52.82 584.73,54.73 586.50,56.50C588.27,58.27 590.03,60.03 591.80,61.80C593.57,63.57 595.33,65.63 597.10,67.10C598.87,68.57 600.63,69.72 602.40,70.60C604.17,71.48 605.93,72.03 607.70,72.40C609.47,72.77 611.23,72.73 613.00,72.80C614.77,72.87 616.35,73.00 618.30,72.80C620.25,72.60 622.02,72.28 624.70,71.60C627.38,70.92 631.15,70.15 634.40,68.70C637.65,67.25 640.95,65.43 644.20,62.90C647.45,60.37 650.67,56.32 653.90,53.50C657.13,50.68 661.02,47.67 663.60,46.00C666.18,44.33 667.13,43.92 669.40,43.50C671.67,43.08 674.52,43.35 677.20,43.50C679.88,43.65 684.12,44.25 685.50,44.40" stroke="#2a2a2a" stroke-width="0.9" fill="none"/></g><path d="M414.40,42.11a1.9,1.9 0 1,0 3.80,0a1.9,1.9 0 1,0 -3.80,0M419.24,39.87a1.9,1.9 0 1,0 3.80,0a1.9,1.9 0 1,0 -3.80,0M424.07,38.29a1.9,1.9 0 1,0 3.80,0a1.9,1.9 0 1,0 -3.80,0M428.90,37.20a1.9,1.9 0 1,0 3.80,0a1.9,1.9 0 1,0 -3.80,0M433.74,36.63a1.9,1.9 0 1,0 3.80,0a1.9,1.9 0 1,0 -3.80,0M438.57,36.49a1.9,1.9 0 1,0 3.80,0a1.9,1.9 0 1,0 -3.80,0M443.41,36.77a1.9,1.9 0 1,0 3.80,0a1.9,1.9 0 1,0 -3.80,0M448.24,37.52a1.9,1.9 0 1,0 3.80,0a1.9,1.9 0 1,0 -3.80,0M453.08,38.60a1.9,1.9 0 1,0 3.80,0a1.9,1.9 0 1,0 -3.80,0M457.91,39.21a1.9,1.9 0 1,0 3.80,0a1.9,1.9 0 1,0 -3.80,0M462.75,39.49a1.9,1.9 0 1,0 3.80,0a1.9,1.9 0 1,0 -3.80,0M467.58,39.55a1.9,1.9 0 1,0 3.80,0a1.9,1.9 0 1,0 -3.80,0M472.42,39.43a1.9,1.9 0 1,0 3.80,0a1.9,1.9 0 1,0 -3.80,0M477.25,39.10a1.9,1.9 0 1,0 3.80,0a1.9,1.9 0 1,0 -3.80,0M482.09,38.61a1.9,1.9 0 1,0 3.80,0a1.9,1.9 0 1,0 -3.80,0M486.92,37.97a1.9,1.9 0 1,0 3.80,0a1.9,1.9 0 1,0 -3.80,0M491.76,37.31a1.9,1.9 0 1,0 3.80,0a1.9,1.9 0 1,0 -3.80,0M496.59,37.06a1.9,1.9 0 1,0 3.80,0a1.9,1.9 0 1,0 -3.80,0M501.43,37.12a1.9,1.9 0 1,0 3.80,0a1.9,1.9 0 1,0 -3.80,0M506.26,37.46a1.9,1.9 0 1,0 3.80,0a1.9,1.9 0 1,0 -3.80,0M511.10,38.06a1.9,1.9 0 1,0 3.80,0a1.9,1.9 0 1,0 -3.80,0M515.93,38.64a1.9,1.9 0 1,0 3.80,0a1.9,1.9 0 1,0 -3.80,0M520.77,39.23a1.9,1.9 0 1,0 3.80,0a1.9,1.9 0 1,0 -3.80,0M525.60,39.81a1.9,1.9 0 1,0 3.80,0a1.9,1.9 0 1,0 -3.80,0M530.44,40.39a1.9,1.9 0 1,0 3.80,0a1.9,1.9 0 1,0 -3.80,0M535.27,40.40a1.9,1.9 0 1,0 3.80,0a1.9,1.9 0 1,0 -3.80,0M540.11,39.79a1.9,1.9 0 1,0 3.80,0a1.9,1.9 0 1,0 -3.80,0M544.94,39.23a1.9,1.9 0 1,0 3.80,0a1.9,1.9 0 1,0 -3.80,0M549.78,38.83a1.9,1.9 0 1,0 3.80,0a1.9,1.9 0 1,0 -3.80,0M554.62,38.24a1.9,1.9 0 1,0 3.80,0a1.9,1.9 0 1,0 -3.80,0M559.45,38.05a1.9,1.9 0 1,0 3.80,0a1.9,1.9 0 1,0 -3.80,0M564.29,38.57a1.9,1.9 0 1,0 3.80,0a1.9,1.9 0 1,0 -3.80,0M569.12,38.87a1.9,1.9 0 1,0 3.80,0a1.9,1.9 0 1,0 -3.80,0M573.96,38.87a1.9,1.9 0 1,0 3.80,0a1.9,1.9 0 1,0 -3.80,0M578.79,38.58a1.9,1.9 0 1,0 3.80,0a1.9,1.9 0 1,0 -3.80,0M583.63,38.08a1.9,1.9 0 1,0 3.80,0a1.9,1.9 0 1,0 -3.80,0M588.46,37.66a1.9,1.9 0 1,0 3.80,0a1.9,1.9 0 1,0 -3.80,0M593.30,37.40a1.9,1.9 0 1,0 3.80,0a1.9,1.9 0 1,0 -3.80,0M598.13,37.58a1.9,1.9 0 1,0 3.80,0a1.9,1.9 0 1,0 -3.80,0M602.97,38.09a1.9,1.9 0 1,0 3.80,0a1.9,1.9 0 1,0 -3.80,0M607.80,38.87a1.9,1.9 0 1,0 3.80,0a1.9,1.9 0 1,0 -3.80,0M612.64,40.20a1.9,1.9 0 1,0 3.80,0a1.9,1.9 0 1,0 -3.80,0M617.47,42.14a1.9,1.9 0 1,0 3.80,0a1.9,1.9 0 1,0 -3.80,0M622.31,44.55a1.9,1.9 0 1,0 3.80,0a1.9,1.9 0 1,0 -3.80,0M627.14,47.39a1.9,1.9 0 1,0 3.80,0a1.9,1.9 0 1,0 -3.80,0M631.98,51.01a1.9,1.9 0 1,0 3.80,0a1.9,1.9 0 1,0 -3.80,0M636.81,55.82a1.9,1.9 0 1,0 3.80,0a1.9,1.9 0 1,0 -3.80,0M641.65,61.24a1.9,1.9 0 1,0 3.80,0a1.9,1.9 0 1,0 -3.80,0M646.48,66.01a1.9,1.9 0 1,0 3.80,0a1.9,1.9 0 1,0 -3.80,0M651.32,70.20a1.9,1.9 0 1,0 3.80,0a1.9,1.9 0 1,0 -3.80,0M656.15,73.13a1.9,1.9 0 1,0 3.80,0a1.9,1.9 0 1,0 -3.80,0M660.99,75.21a1.9,1.9 0 1,0 3.80,0a1.9,1.9 0 1,0 -3.80,0M665.82,76.99a1.9,1.9 0 1,0 3.80,0a1.9,1.9 0 1,0 -3.80,0M670.66,78.33a1.9,1.9 0 1,0 3.80,0a1.9,1.9 0 1,0 -3.80,0M675.49,79.27a1.9,1.9 0 1,0 3.80,0a1.9,1.9 0 1,0 -3.80,0M680.33,80.02a1.9,1.9 0 1,0 3.80,0a1.9,1.9 0 1,0 -3.80,0M414.40,44.35a1.9,1.9 0 1,0 3.80,0a1.9,1.9 0 1,0 -3.80,0M419.24,41.84a1.9,1.9 0 1,0 3.80,0a1.9,1.9 0 1,0 -3.80,0M424.07,39.75a1.9,1.9 0 1,0 3.80,0a1.9,1.9 0 1,0 -3.80,0M428.90,38.22a1.9,1.9 0 1,0 3.80,0a1.9,1.9 0 1,0 -3.80,0M433.74,37.42a1.9,1.9 0 1,0 3.80,0a1.9,1.9 0 1,0 -3.80,0M438.57,37.15a1.9,1.9 0 1,0 3.80,0a1.9,1.9 0 1,0 -3.80,0M443.41,37.38a1.9,1.9 0 1,0 3.80,0a1.9,1.9 0 1,0 -3.80,0M448.24,38.11a1.9,1.9 0 1,0 3.80,0a1.9,1.9 0 1,0 -3.80,0M453.08,39.25a1.9,1.9 0 1,0 3.80,0a1.9,1.9 0 1,0 -3.80,0M457.91,40.18a1.9,1.9 0 1,0 3.80,0a1.9,1.9 0 1,0 -3.80,0M462.75,40.95a1.9,1.9 0 1,0 3.80,0a1.9,1.9 0 1,0 -3.80,0M467.58,41.52a1.9,1.9 0 1,0 3.80,0a1.9,1.9 0 1,0 -3.80,0M472.42,41.81a1.9,1.9 0 1,0 3.80,0a1.9,1.9 0 1,0 -3.80,0M477.25,41.69a1.9,1.9 0 1,0 3.80,0a1.9,1.9 0 1,0 -3.80,0M482.09,41.42a1.9,1.9 0 1,0 3.80,0a1.9,1.9 0 1,0 -3.80,0M486.92,41.05a1.9,1.9 0 1,0 3.80,0a1.9,1.9 0 1,0 -3.80,0M491.76,40.92a1.9,1.9 0 1,0 3.80,0a1.9,1.9 0 1,0 -3.80,0M496.59,40.94a1.9,1.9 0 1,0 3.80,0a1.9,1.9 0 1,0 -3.80,0M501.43,41.28a1.9,1.9 0 1,0 3.80,0a1.9,1.9 0 1,0 -3.80,0M506.26,41.83a1.9,1.9 0 1,0 3.80,0a1.9,1.9 0 1,0 -3.80,0M511.10,42.20a1.9,1.9 0 1,0 3.80,0a1.9,1.9 0 1,0 -3.80,0M515.93,42.43a1.9,1.9 0 1,0 3.80,0a1.9,1.9 0 1,0 -3.80,0M520.77,42.56a1.9,1.9 0 1,0 3.80,0a1.9,1.9 0 1,0 -3.80,0M525.60,42.58a1.9,1.9 0 1,0 3.80,0a1.9,1.9 0 1,0 -3.80,0M530.44,42.33a1.9,1.9 0 1,0 3.80,0a1.9,1.9 0 1,0 -3.80,0M535.27,41.81a1.9,1.9 0 1,0 3.80,0a1.9,1.9 0 1,0 -3.80,0M540.11,41.30a1.9,1.9 0 1,0 3.80,0a1.9,1.9 0 1,0 -3.80,0M544.94,40.80a1.9,1.9 0 1,0 3.80,0a1.9,1.9 0 1,0 -3.80,0M549.78,40.34a1.9,1.9 0 1,0 3.80,0a1.9,1.9 0 1,0 -3.80,0M554.62,39.85a1.9,1.9 0 1,0 3.80,0a1.9,1.9 0 1,0 -3.80,0M559.45,39.74a1.9,1.9 0 1,0 3.80,0a1.9,1.9 0 1,0 -3.80,0M564.29,40.28a1.9,1.9 0 1,0 3.80,0a1.9,1.9 0 1,0 -3.80,0M569.12,40.82a1.9,1.9 0 1,0 3.80,0a1.9,1.9 0 1,0 -3.80,0M573.96,41.29a1.9,1.9 0 1,0 3.80,0a1.9,1.9 0 1,0 -3.80,0M578.79,41.91a1.9,1.9 0 1,0 3.80,0a1.9,1.9 0 1,0 -3.80,0M583.63,42.59a1.9,1.9 0 1,0 3.80,0a1.9,1.9 0 1,0 -3.80,0M588.46,43.01a1.9,1.9 0 1,0 3.80,0a1.9,1.9 0 1,0 -3.80,0M593.30,43.29a1.9,1.9 0 1,0 3.80,0a1.9,1.9 0 1,0 -3.80,0M598.13,43.53a1.9,1.9 0 1,0 3.80,0a1.9,1.9 0 1,0 -3.80,0M602.97,43.87a1.9,1.9 0 1,0 3.80,0a1.9,1.9 0 1,0 -3.80,0M607.80,44.47a1.9,1.9 0 1,0 3.80,0a1.9,1.9 0 1,0 -3.80,0M612.64,45.26a1.9,1.9 0 1,0 3.80,0a1.9,1.9 0 1,0 -3.80,0M617.47,46.18a1.9,1.9 0 1,0 3.80,0a1.9,1.9 0 1,0 -3.80,0M622.31,47.62a1.9,1.9 0 1,0 3.80,0a1.9,1.9 0 1,0 -3.80,0M627.14,49.61a1.9,1.9 0 1,0 3.80,0a1.9,1.9 0 1,0 -3.80,0M631.98,51.66a1.9,1.9 0 1,0 3.80,0a1.9,1.9 0 1,0 -3.80,0M636.81,53.49a1.9,1.9 0 1,0 3.80,0a1.9,1.9 0 1,0 -3.80,0M641.65,55.10a1.9,1.9 0 1,0 3.80,0a1.9,1.9 0 1,0 -3.80,0M646.48,56.38a1.9,1.9 0 1,0 3.80,0a1.9,1.9 0 1,0 -3.80,0M651.32,57.03a1.9,1.9 0 1,0 3.80,0a1.9,1.9 0 1,0 -3.80,0M656.15,56.11a1.9,1.9 0 1,0 3.80,0a1.9,1.9 0 1,0 -3.80,0M660.99,54.43a1.9,1.9 0 1,0 3.80,0a1.9,1.9 0 1,0 -3.80,0M665.82,52.79a1.9,1.9 0 1,0 3.80,0a1.9,1.9 0 1,0 -3.80,0M670.66,51.20a1.9,1.9 0 1,0 3.80,0a1.9,1.9 0 1,0 -3.80,0M675.49,50.07a1.9,1.9 0 1,0 3.80,0a1.9,1.9 0 1,0 -3.80,0M680.33,49.13a1.9,1.9 0 1,0 3.80,0a1.9,1.9 0 1,0 -3.80,0M414.40,66.72a1.9,1.9 0 1,0 3.80,0a1.9,1.9 0 1,0 -3.80,0M419.24,65.46a1.9,1.9 0 1,0 3.80,0a1.9,1.9 0 1,0 -3.80,0M424.07,62.20a1.9,1.9 0 1,0 3.80,0a1.9,1.9 0 1,0 -3.80,0M428.90,58.19a1.9,1.9 0 1,0 3.80,0a1.9,1.9 0 1,0 -3.80,0M433.74,54.41a1.9,1.9 0 1,0 3.80,0a1.9,1.9 0 1,0 -3.80,0M438.57,50.46a1.9,1.9 0 1,0 3.80,0a1.9,1.9 0 1,0 -3.80,0M443.41,46.44a1.9,1.9 0 1,0 3.80,0a1.9,1.9 0 1,0 -3.80,0M448.24,42.61a1.9,1.9 0 1,0 3.80,0a1.9,1.9 0 1,0 -3.80,0M453.08,40.36a1.9,1.9 0 1,0 3.80,0a1.9,1.9 0 1,0 -3.80,0M457.91,40.01a1.9,1.9 0 1,0 3.80,0a1.9,1.9 0 1,0 -3.80,0M462.75,40.85a1.9,1.9 0 1,0 3.80,0a1.9,1.9 0 1,0 -3.80,0M467.58,41.44a1.9,1.9 0 1,0 3.80,0a1.9,1.9 0 1,0 -3.80,0M472.42,41.82a1.9,1.9 0 1,0 3.80,0a1.9,1.9 0 1,0 -3.80,0M477.25,41.79a1.9,1.9 0 1,0 3.80,0a1.9,1.9 0 1,0 -3.80,0M482.09,41.86a1.9,1.9 0 1,0 3.80,0a1.9,1.9 0 1,0 -3.80,0M486.92,42.20a1.9,1.9 0 1,0 3.80,0a1.9,1.9 0 1,0 -3.80,0M491.76,42.68a1.9,1.9 0 1,0 3.80,0a1.9,1.9 0 1,0 -3.80,0M496.59,43.32a1.9,1.9 0 1,0 3.80,0a1.9,1.9 0 1,0 -3.80,0M501.43,43.87a1.9,1.9 0 1,0 3.80,0a1.9,1.9 0 1,0 -3.80,0M506.26,44.35a1.9,1.9 0 1,0 3.80,0a1.9,1.9 0 1,0 -3.80,0M511.10,44.72a1.9,1.9 0 1,0 3.80,0a1.9,1.9 0 1,0 -3.80,0M515.93,44.97a1.9,1.9 0 1,0 3.80,0a1.9,1.9 0 1,0 -3.80,0M520.77,44.95a1.9,1.9 0 1,0 3.80,0a1.9,1.9 0 1,0 -3.80,0M525.60,44.68a1.9,1.9 0 1,0 3.80,0a1.9,1.9 0 1,0 -3.80,0M530.44,44.29a1.9,1.9 0 1,0 3.80,0a1.9,1.9 0 1,0 -3.80,0M535.27,43.76a1.9,1.9 0 1,0 3.80,0a1.9,1.9 0 1,0 -3.80,0M540.11,43.35a1.9,1.9 0 1,0 3.80,0a1.9,1.9 0 1,0 -3.80,0M544.94,43.04a1.9,1.9 0 1,0 3.80,0a1.9,1.9 0 1,0 -3.80,0M549.78,43.03a1.9,1.9 0 1,0 3.80,0a1.9,1.9 0 1,0 -3.80,0M554.62,43.50a1.9,1.9 0 1,0 3.80,0a1.9,1.9 0 1,0 -3.80,0M559.45,46.06a1.9,1.9 0 1,0 3.80,0a1.9,1.9 0 1,0 -3.80,0M564.29,50.18a1.9,1.9 0 1,0 3.80,0a1.9,1.9 0 1,0 -3.80,0M569.12,55.16a1.9,1.9 0 1,0 3.80,0a1.9,1.9 0 1,0 -3.80,0M573.96,60.85a1.9,1.9 0 1,0 3.80,0a1.9,1.9 0 1,0 -3.80,0M578.79,65.76a1.9,1.9 0 1,0 3.80,0a1.9,1.9 0 1,0 -3.80,0M583.63,69.28a1.9,1.9 0 1,0 3.80,0a1.9,1.9 0 1,0 -3.80,0M588.46,71.21a1.9,1.9 0 1,0 3.80,0a1.9,1.9 0 1,0 -3.80,0M593.30,71.64a1.9,1.9 0 1,0 3.80,0a1.9,1.9 0 1,0 -3.80,0M598.13,71.11a1.9,1.9 0 1,0 3.80,0a1.9,1.9 0 1,0 -3.80,0M602.97,69.87a1.9,1.9 0 1,0 3.80,0a1.9,1.9 0 1,0 -3.80,0M607.80,68.26a1.9,1.9 0 1,0 3.80,0a1.9,1.9 0 1,0 -3.80,0M612.64,66.45a1.9,1.9 0 1,0 3.80,0a1.9,1.9 0 1,0 -3.80,0M617.47,63.82a1.9,1.9 0 1,0 3.80,0a1.9,1.9 0 1,0 -3.80,0M622.31,60.36a1.9,1.9 0 1,0 3.80,0a1.9,1.9 0 1,0 -3.80,0M627.14,56.90a1.9,1.9 0 1,0 3.80,0a1.9,1.9 0 1,0 -3.80,0M631.98,53.39a1.9,1.9 0 1,0 3.80,0a1.9,1.9 0 1,0 -3.80,0M636.81,49.75a1.9,1.9 0 1,0 3.80,0a1.9,1.9 0 1,0 -3.80,0M641.65,46.01a1.9,1.9 0 1,0 3.80,0a1.9,1.9 0 1,0 -3.80,0M646.48,41.96a1.9,1.9 0 1,0 3.80,0a1.9,1.9 0 1,0 -3.80,0M651.32,39.08a1.9,1.9 0 1,0 3.80,0a1.9,1.9 0 1,0 -3.80,0M656.15,38.96a1.9,1.9 0 1,0 3.80,0a1.9,1.9 0 1,0 -3.80,0M660.99,40.55a1.9,1.9 0 1,0 3.80,0a1.9,1.9 0 1,0 -3.80,0M665.82,42.67a1.9,1.9 0 1,0 3.80,0a1.9,1.9 0 1,0 -3.80,0M670.66,43.79a1.9,1.9 0 1,0 3.80,0a1.9,1.9 0 1,0 -3.80,0M675.49,43.81a1.9,1.9 0 1,0 3.80,0a1.9,1.9 0 1,0 -3.80,0M680.33,44.48a1.9,1.9 0 1,0 3.80,0a1.9,1.9 0 1,0 -3.80,0M414.40,68.34a1.9,1.9 0 1,0 3.80,0a1.9,1.9 0 1,0 -3.80,0M419.24,67.34a1.9,1.9 0 1,0 3.80,0a1.9,1.9 0 1,0 -3.80,0M424.07,66.55a1.9,1.9 0 1,0 3.80,0a1.9,1.9 0 1,0 -3.80,0M428.90,65.85a1.9,1.9 0 1,0 3.80,0a1.9,1.9 0 1,0 -3.80,0M433.74,65.26a1.9,1.9 0 1,0 3.80,0a1.9,1.9 0 1,0 -3.80,0M438.57,64.36a1.9,1.9 0 1,0 3.80,0a1.9,1.9 0 1,0 -3.80,0M443.41,63.03a1.9,1.9 0 1,0 3.80,0a1.9,1.9 0 1,0 -3.80,0M448.24,61.83a1.9,1.9 0 1,0 3.80,0a1.9,1.9 0 1,0 -3.80,0M453.08,60.67a1.9,1.9 0 1,0 3.80,0a1.9,1.9 0 1,0 -3.80,0M457.91,58.96a1.9,1.9 0 1,0 3.80,0a1.9,1.9 0 1,0 -3.80,0M462.75,56.94a1.9,1.9 0 1,0 3.80,0a1.9,1.9 0 1,0 -3.80,0M467.58,55.07a1.9,1.9 0 1,0 3.80,0a1.9,1.9 0 1,0 -3.80,0M472.42,53.07a1.9,1.9 0 1,0 3.80,0a1.9,1.9 0 1,0 -3.80,0M477.25,50.72a1.9,1.9 0 1,0 3.80,0a1.9,1.9 0 1,0 -3.80,0M482.09,48.17a1.9,1.9 0 1,0 3.80,0a1.9,1.9 0 1,0 -3.80,0M486.92,45.54a1.9,1.9 0 1,0 3.80,0a1.9,1.9 0 1,0 -3.80,0M491.76,46.15a1.9,1.9 0 1,0 3.80,0a1.9,1.9 0 1,0 -3.80,0M496.59,47.41a1.9,1.9 0 1,0 3.80,0a1.9,1.9 0 1,0 -3.80,0M501.43,48.52a1.9,1.9 0 1,0 3.80,0a1.9,1.9 0 1,0 -3.80,0M506.26,49.16a1.9,1.9 0 1,0 3.80,0a1.9,1.9 0 1,0 -3.80,0M511.10,48.89a1.9,1.9 0 1,0 3.80,0a1.9,1.9 0 1,0 -3.80,0M515.93,47.66a1.9,1.9 0 1,0 3.80,0a1.9,1.9 0 1,0 -3.80,0M520.77,46.44a1.9,1.9 0 1,0 3.80,0a1.9,1.9 0 1,0 -3.80,0M525.60,45.50a1.9,1.9 0 1,0 3.80,0a1.9,1.9 0 1,0 -3.80,0M530.44,44.52a1.9,1.9 0 1,0 3.80,0a1.9,1.9 0 1,0 -3.80,0M535.27,43.53a1.9,1.9 0 1,0 3.80,0a1.9,1.9 0 1,0 -3.80,0M540.11,42.65a1.9,1.9 0 1,0 3.80,0a1.9,1.9 0 1,0 -3.80,0M544.94,41.90a1.9,1.9 0 1,0 3.80,0a1.9,1.9 0 1,0 -3.80,0M549.78,41.32a1.9,1.9 0 1,0 3.80,0a1.9,1.9 0 1,0 -3.80,0M554.62,40.93a1.9,1.9 0 1,0 3.80,0a1.9,1.9 0 1,0 -3.80,0M559.45,40.82a1.9,1.9 0 1,0 3.80,0a1.9,1.9 0 1,0 -3.80,0M564.29,41.56a1.9,1.9 0 1,0 3.80,0a1.9,1.9 0 1,0 -3.80,0M569.12,44.49a1.9,1.9 0 1,0 3.80,0a1.9,1.9 0 1,0 -3.80,0M573.96,46.77a1.9,1.9 0 1,0 3.80,0a1.9,1.9 0 1,0 -3.80,0M578.79,50.73a1.9,1.9 0 1,0 3.80,0a1.9,1.9 0 1,0 -3.80,0M583.63,55.51a1.9,1.9 0 1,0 3.80,0a1.9,1.9 0 1,0 -3.80,0M588.46,60.36a1.9,1.9 0 1,0 3.80,0a1.9,1.9 0 1,0 -3.80,0M593.30,65.33a1.9,1.9 0 1,0 3.80,0a1.9,1.9 0 1,0 -3.80,0M598.13,69.25a1.9,1.9 0 1,0 3.80,0a1.9,1.9 0 1,0 -3.80,0M602.97,71.63a1.9,1.9 0 1,0 3.80,0a1.9,1.9 0 1,0 -3.80,0M607.80,72.67a1.9,1.9 0 1,0 3.80,0a1.9,1.9 0 1,0 -3.80,0M612.64,72.87a1.9,1.9 0 1,0 3.80,0a1.9,1.9 0 1,0 -3.80,0M617.47,72.68a1.9,1.9 0 1,0 3.80,0a1.9,1.9 0 1,0 -3.80,0M622.31,71.72a1.9,1.9 0 1,0 3.80,0a1.9,1.9 0 1,0 -3.80,0M627.14,70.52a1.9,1.9 0 1,0 3.80,0a1.9,1.9 0 1,0 -3.80,0M631.98,68.93a1.9,1.9 0 1,0 3.80,0a1.9,1.9 0 1,0 -3.80,0M636.81,66.54a1.9,1.9 0 1,0 3.80,0a1.9,1.9 0 1,0 -3.80,0M641.65,63.40a1.9,1.9 0 1,0 3.80,0a1.9,1.9 0 1,0 -3.80,0M646.48,59.01a1.9,1.9 0 1,0 3.80,0a1.9,1.9 0 1,0 -3.80,0M651.32,54.12a1.9,1.9 0 1,0 3.80,0a1.9,1.9 0 1,0 -3.80,0M656.15,50.06a1.9,1.9 0 1,0 3.80,0a1.9,1.9 0 1,0 -3.80,0M660.99,46.47a1.9,1.9 0 1,0 3.80,0a1.9,1.9 0 1,0 -3.80,0M665.82,43.88a1.9,1.9 0 1,0 3.80,0a1.9,1.9 0 1,0 -3.80,0M670.66,43.28a1.9,1.9 0 1,0 3.80,0a1.9,1.9 0 1,0 -3.80,0M675.49,43.51a1.9,1.9 0 1,0 3.80,0a1.9,1.9 0 1,0 -3.80,0M680.33,44.00a1.9,1.9 0 1,0 3.80,0a1.9,1.9 0 1,0 -3.80,0" stroke="#1e1e1e" stroke-width="0.8" fill="none"/>
<g clip-path="url(#clip3)"><path d="M54.50,160.00C55.90,160.02 59.87,159.95 62.90,160.10C65.93,160.25 69.42,160.67 72.70,160.90C75.98,161.13 80.13,161.15 82.60,161.50C85.07,161.85 85.90,162.47 87.50,163.00C89.10,163.53 90.65,164.07 92.20,164.70C93.75,165.33 95.22,166.13 96.80,166.80C98.38,167.47 100.07,167.95 101.70,168.70C103.33,169.45 105.02,170.28 106.60,171.30C108.18,172.32 109.37,173.43 111.20,174.80C113.03,176.17 115.40,178.00 117.60,179.50C119.80,181.00 122.22,182.22 124.40,183.80C126.58,185.38 128.85,187.58 130.70,189.00C132.55,190.42 133.90,191.30 135.50,192.30C137.10,193.30 138.72,194.13 140.30,195.00C141.88,195.87 143.30,196.50 145.00,197.50C146.70,198.50 148.50,200.20 150.50,201.00C152.50,201.80 154.83,202.45 157.00,202.30C159.17,202.15 161.33,201.18 163.50,200.10C165.67,199.02 168.25,196.98 170.00,195.80C171.75,194.62 172.48,193.72 174.00,193.00C175.52,192.28 177.20,191.75 179.10,191.50C181.00,191.25 183.28,191.25 185.40,191.50C187.52,191.75 189.93,192.22 191.80,193.00C193.67,193.78 195.40,194.87 196.60,196.20C197.80,197.53 197.98,198.95 199.00,201.00C200.02,203.05 201.68,207.33 202.70,208.50C203.72,209.67 204.28,209.12 205.10,208.00C205.92,206.88 206.78,204.47 207.60,201.80C208.42,199.13 209.17,194.73 210.00,192.00C210.83,189.27 211.37,188.35 212.60,185.40C213.83,182.45 215.80,177.22 217.40,174.30C219.00,171.38 220.62,169.63 222.20,167.90C223.78,166.17 225.32,164.70 226.90,163.90C228.48,163.10 230.10,162.97 231.70,163.10C233.30,163.23 234.92,163.90 236.50,164.70C238.08,165.50 239.62,166.77 241.20,167.90C242.78,169.03 244.53,170.30 246.00,171.50C247.47,172.70 248.27,173.98 250.00,175.10C251.73,176.22 254.55,178.08 256.40,178.20C258.25,178.32 259.52,177.25 261.10,175.80C262.68,174.35 264.30,171.35 265.90,169.50C267.50,167.65 269.12,165.55 270.70,164.70C272.28,163.85 273.82,164.13 275.40,164.40C276.98,164.67 278.60,164.92 280.20,166.30C281.80,167.68 283.42,170.32 285.00,172.70C286.58,175.08 288.12,177.68 289.70,180.60C291.28,183.52 292.98,186.95 294.50,190.20C296.02,193.45 297.55,197.08 298.80,200.10C300.05,203.12 300.92,205.32 302.00,208.30C303.08,211.28 304.35,215.83 305.30,218.00C306.25,220.17 306.62,221.83 307.70,221.30C308.78,220.77 310.58,216.30 311.80,214.80C313.02,213.30 313.92,212.30 315.00,212.30C316.08,212.30 317.22,212.77 318.30,214.80C319.38,216.83 320.80,222.63 321.50,224.50C322.20,226.37 322.08,226.82 322.50,226.00C322.92,225.18 323.33,222.77 324.00,219.60C324.67,216.43 326.08,209.10 326.50,207.00" stroke="#2a2a2a" stroke-width="0.9" fill="none"/>
<path d="M54.50,173.50C54.95,172.83 55.95,170.83 57.20,169.50C58.45,168.17 60.53,166.62 62.00,165.50C63.47,164.38 64.83,163.42 66.00,162.80C67.17,162.18 67.82,161.87 69.00,161.80C70.18,161.73 71.53,161.57 73.10,162.40C74.67,163.23 76.82,165.35 78.40,166.80C79.98,168.25 81.18,169.50 82.60,171.10C84.02,172.70 85.48,174.28 86.90,176.40C88.32,178.52 89.87,181.33 91.10,183.80C92.33,186.27 93.42,188.73 94.30,191.20C95.18,193.67 95.67,196.30 96.40,198.60C97.13,200.90 97.92,202.03 98.70,205.00C99.48,207.97 100.42,212.60 101.10,216.40C101.78,220.20 102.25,224.20 102.80,227.80C103.35,231.40 103.98,235.47 104.40,238.00C104.82,240.53 104.98,243.00 105.30,243.00C105.62,243.00 105.63,241.62 106.30,238.00C106.97,234.38 108.27,226.25 109.30,221.30C110.33,216.35 111.55,211.83 112.50,208.30C113.45,204.77 113.85,202.03 115.00,200.10C116.15,198.17 117.68,197.73 119.40,196.70C121.12,195.67 123.35,194.82 125.30,193.90C127.25,192.98 129.17,191.35 131.10,191.20C133.03,191.05 134.95,192.08 136.90,193.00C138.85,193.92 141.02,195.73 142.80,196.70C144.58,197.67 146.80,198.45 147.60,198.80" stroke="#2a2a2a" stroke-width="0.9" fill="none"/>
<path d="M122.00,245.00C122.10,243.50 122.38,239.50 122.60,236.00C122.82,232.50 122.85,227.48 123.30,224.00C123.75,220.52 124.32,216.73 125.30,215.10C126.28,213.47 128.07,213.72 129.20,214.20C130.33,214.68 131.13,215.90 132.10,218.00C133.07,220.10 134.20,224.20 135.00,226.80C135.80,229.40 136.23,231.40 136.90,233.60C137.57,235.80 138.35,238.27 139.00,240.00C139.65,241.73 140.23,244.95 140.80,244.00C141.37,243.05 141.73,238.37 142.40,234.30C143.07,230.23 143.98,224.48 144.80,219.60C145.62,214.72 146.62,208.78 147.30,205.00C147.98,201.22 148.28,199.40 148.90,196.90C149.52,194.40 150.05,192.58 151.00,190.00C151.95,187.42 153.22,183.63 154.60,181.40C155.98,179.17 157.72,177.92 159.30,176.60C160.88,175.28 162.50,174.15 164.10,173.50C165.70,172.85 167.32,172.32 168.90,172.70C170.48,173.08 172.02,174.22 173.60,175.80C175.18,177.38 177.07,180.33 178.40,182.20C179.73,184.07 180.67,184.82 181.60,187.00C182.53,189.18 182.78,191.75 184.00,195.30C185.22,198.85 187.27,203.97 188.90,208.30C190.53,212.63 192.45,217.25 193.80,221.30C195.15,225.35 196.20,229.82 197.00,232.60C197.80,235.38 198.10,236.27 198.60,238.00C199.10,239.73 199.10,241.67 200.00,243.00C200.90,244.33 202.67,246.00 204.00,246.00C205.33,246.00 206.87,244.33 208.00,243.00C209.13,241.67 209.92,242.43 210.80,238.00C211.68,233.57 212.48,221.35 213.30,216.40C214.12,211.45 214.90,211.28 215.70,208.30C216.50,205.32 217.02,201.55 218.10,198.50C219.18,195.45 220.73,192.05 222.20,190.00C223.67,187.95 225.38,187.00 226.90,186.20C228.42,185.40 229.78,185.15 231.30,185.20C232.82,185.25 234.35,185.62 236.00,186.50C237.65,187.38 239.40,188.92 241.20,190.50C243.00,192.08 245.27,194.53 246.80,196.00C248.33,197.47 249.20,198.75 250.40,199.30C251.60,199.85 251.95,199.68 254.00,199.30C256.05,198.92 260.18,198.52 262.70,197.00C265.22,195.48 266.98,192.27 269.10,190.20C271.22,188.13 273.28,186.33 275.40,184.60C277.52,182.87 279.67,181.13 281.80,179.80C283.93,178.47 285.82,177.65 288.20,176.60C290.58,175.55 293.72,174.42 296.10,173.50C298.48,172.58 300.38,171.90 302.50,171.10C304.62,170.30 306.68,169.50 308.80,168.70C310.92,167.90 312.82,167.23 315.20,166.30C317.58,165.37 321.22,163.82 323.10,163.10C324.98,162.38 325.93,162.18 326.50,162.00" stroke="#2a2a2a" stroke-width="0.9" fill="none"/>
<path d="M129.50,244.00C129.68,242.67 130.02,238.70 130.60,236.00C131.18,233.30 132.27,229.50 133.00,227.80C133.73,226.10 134.18,225.65 135.00,225.80C135.82,225.95 137.07,227.33 137.90,228.70C138.73,230.07 139.40,231.78 140.00,234.00C140.60,236.22 141.25,240.67 141.50,242.00" stroke="#2a2a2a" stroke-width="0.9" fill="none"/>
<path d="M54.50,176.00C54.95,176.90 56.28,179.73 57.20,181.40C58.12,183.07 59.18,184.23 60.00,186.00C60.82,187.77 61.20,189.37 62.10,192.00C63.00,194.63 64.45,198.55 65.40,201.80C66.35,205.05 66.98,207.72 67.80,211.50C68.62,215.28 69.62,220.70 70.30,224.50C70.98,228.30 71.45,231.72 71.90,234.30C72.35,236.88 72.48,238.05 73.00,240.00C73.52,241.95 74.23,246.33 75.00,246.00C75.77,245.67 76.77,240.23 77.60,238.00C78.43,235.77 79.05,234.85 80.00,232.60C80.95,230.35 82.22,226.93 83.30,224.50C84.38,222.07 85.55,219.35 86.50,218.00C87.45,216.65 88.18,216.13 89.00,216.40C89.82,216.67 90.73,218.25 91.40,219.60C92.07,220.95 92.47,222.60 93.00,224.50C93.53,226.40 94.05,228.75 94.60,231.00C95.15,233.25 95.82,236.00 96.30,238.00C96.78,240.00 97.05,243.00 97.50,243.00C97.95,243.00 98.30,241.83 99.00,238.00C99.70,234.17 100.72,228.33 101.70,220.00C102.68,211.67 103.83,194.03 104.90,188.00C105.97,181.97 107.05,184.32 108.10,183.80C109.15,183.28 110.22,183.83 111.20,184.90C112.18,185.97 112.87,188.18 114.00,190.20C115.13,192.22 117.07,193.98 118.00,197.00C118.93,200.02 119.05,204.25 119.60,208.30C120.15,212.35 120.62,216.35 121.30,221.30C121.98,226.25 123.08,234.05 123.70,238.00C124.32,241.95 124.78,243.83 125.00,245.00" stroke="#2a2a2a" stroke-width="0.9" fill="none"/>
<path d="M54.50,174.50C55.22,175.38 57.55,178.05 58.80,179.80C60.05,181.55 61.03,182.97 62.00,185.00C62.97,187.03 63.63,189.75 64.60,192.00C65.57,194.25 66.72,195.25 67.80,198.50C68.88,201.75 70.02,207.17 71.10,211.50C72.18,215.83 73.35,220.70 74.30,224.50C75.25,228.30 76.18,231.72 76.80,234.30C77.42,236.88 77.30,238.05 78.00,240.00C78.70,241.95 79.67,245.33 81.00,246.00C82.33,246.67 84.67,245.33 86.00,244.00C87.33,242.67 88.23,239.00 89.00,238.00C89.77,237.00 89.93,240.25 90.60,238.00C91.27,235.75 92.20,229.45 93.00,224.50C93.80,219.55 94.65,212.97 95.40,208.30C96.15,203.63 96.63,200.23 97.50,196.50C98.37,192.77 99.55,188.20 100.60,185.90C101.65,183.60 102.73,183.23 103.80,182.70C104.87,182.17 105.93,182.17 107.00,182.70C108.07,183.23 109.13,183.95 110.20,185.90C111.27,187.85 112.47,190.00 113.40,194.40C114.33,198.80 114.87,207.28 115.80,212.30C116.73,217.32 118.25,220.83 119.00,224.50C119.75,228.17 119.88,234.30 120.30,234.30C120.72,234.30 121.03,228.30 121.50,224.50C121.97,220.70 122.18,215.92 123.10,211.50C124.02,207.08 125.73,201.68 127.00,198.00C128.27,194.32 129.28,192.17 130.70,189.40C132.12,186.63 133.90,184.18 135.50,181.40C137.10,178.62 138.72,174.82 140.30,172.70C141.88,170.58 143.42,169.23 145.00,168.70C146.58,168.17 148.20,168.97 149.80,169.50C151.40,170.03 153.02,170.85 154.60,171.90C156.18,172.95 157.72,174.62 159.30,175.80C160.88,176.98 162.50,177.40 164.10,179.00C165.70,180.60 167.45,183.28 168.90,185.40C170.35,187.52 171.62,189.60 172.80,191.70C173.98,193.80 174.80,194.95 176.00,198.00C177.20,201.05 178.67,206.00 180.00,210.00C181.33,214.00 182.67,218.00 184.00,222.00C185.33,226.00 187.00,231.00 188.00,234.00C189.00,237.00 189.67,239.00 190.00,240.00" stroke="#2a2a2a" stroke-width="0.9" fill="none"/>
<path d="M168.00,204.00C168.50,202.83 170.08,199.08 171.00,197.00C171.92,194.92 172.68,193.08 173.50,191.50C174.32,189.92 174.70,188.97 175.90,187.50C177.10,186.03 179.12,184.20 180.70,182.70C182.28,181.20 183.82,179.62 185.40,178.50C186.98,177.38 188.68,176.15 190.20,176.00C191.72,175.85 193.15,176.83 194.50,177.60C195.85,178.37 197.13,179.30 198.30,180.60C199.47,181.90 200.57,183.80 201.50,185.40C202.43,187.00 203.23,188.27 203.90,190.20C204.57,192.13 204.90,194.53 205.50,197.00C206.10,199.47 206.75,202.83 207.50,205.00C208.25,207.17 209.18,207.43 210.00,210.00C210.82,212.57 211.32,219.07 212.40,220.40C213.48,221.73 215.00,218.80 216.50,218.00C218.00,217.20 219.77,216.13 221.40,215.60C223.03,215.07 224.68,214.67 226.30,214.80C227.92,214.93 229.75,215.32 231.10,216.40C232.45,217.48 233.32,219.13 234.40,221.30C235.48,223.47 236.65,226.62 237.60,229.40C238.55,232.18 239.28,235.57 240.10,238.00C240.92,240.43 241.68,244.00 242.50,244.00C243.32,244.00 244.32,241.38 245.00,238.00C245.68,234.62 245.93,228.12 246.60,223.70C247.27,219.28 248.18,214.62 249.00,211.50C249.82,208.38 250.53,207.42 251.50,205.00C252.47,202.58 253.20,200.00 254.80,197.00C256.40,194.00 259.25,190.00 261.10,187.00C262.95,184.00 264.30,181.52 265.90,179.00C267.50,176.48 269.12,173.75 270.70,171.90C272.28,170.05 273.55,168.70 275.40,167.90C277.25,167.10 279.93,167.37 281.80,167.10C283.67,166.83 285.02,166.17 286.60,166.30C288.18,166.43 289.72,166.83 291.30,167.90C292.88,168.97 294.50,171.38 296.10,172.70C297.70,174.02 299.05,174.62 300.90,175.80C302.75,176.98 305.08,178.47 307.20,179.80C309.32,181.13 311.47,182.73 313.60,183.80C315.73,184.87 317.85,185.45 320.00,186.20C322.15,186.95 325.42,187.95 326.50,188.30" stroke="#2a2a2a" stroke-width="0.9" fill="none"/>
<path d="M219.80,192.00C220.50,190.67 222.63,186.08 224.00,184.00C225.37,181.92 226.50,180.75 228.00,179.50C229.50,178.25 230.85,177.43 233.00,176.50C235.15,175.57 238.60,174.80 240.90,173.90C243.20,173.00 244.68,171.90 246.80,171.10C248.92,170.30 251.73,170.03 253.60,169.10C255.47,168.17 256.40,166.43 258.00,165.50C259.60,164.57 261.53,163.87 263.20,163.50C264.87,163.13 266.42,163.12 268.00,163.30C269.58,163.48 271.47,163.57 272.70,164.60C273.93,165.63 273.88,167.23 275.40,169.50C276.92,171.77 279.93,175.28 281.80,178.20C283.67,181.12 285.40,183.35 286.60,187.00C287.80,190.65 288.05,196.02 289.00,200.10C289.95,204.18 290.95,207.70 292.30,211.50C293.65,215.30 295.75,219.92 297.10,222.90C298.45,225.88 299.17,227.63 300.40,229.40C301.63,231.17 303.42,233.50 304.50,233.50C305.58,233.50 306.10,231.43 306.90,229.40C307.70,227.37 308.35,224.02 309.30,221.30C310.25,218.58 311.52,216.35 312.60,213.10C313.68,209.85 314.85,205.32 315.80,201.80C316.75,198.28 317.27,194.97 318.30,192.00C319.33,189.03 320.63,186.33 322.00,184.00C323.37,181.67 325.75,179.00 326.50,178.00" stroke="#2a2a2a" stroke-width="0.9" fill="none"/>
<path d="M142.50,246.00C142.75,244.67 143.35,241.58 144.00,238.00C144.65,234.42 145.58,228.37 146.40,224.50C147.22,220.63 148.08,218.32 148.90,214.80C149.72,211.28 150.62,206.12 151.30,203.40C151.98,200.68 152.32,200.40 153.00,198.50C153.68,196.60 154.35,194.18 155.40,192.00C156.45,189.82 157.85,187.98 159.30,185.40C160.75,182.82 162.65,178.65 164.10,176.50C165.55,174.35 167.35,173.17 168.00,172.50" stroke="#2a2a2a" stroke-width="0.9" fill="none"/></g><path d="M56.30,160.00a1.9,1.9 0 1,0 3.80,0a1.9,1.9 0 1,0 -3.80,0M61.14,160.11a1.9,1.9 0 1,0 3.80,0a1.9,1.9 0 1,0 -3.80,0M65.97,160.48a1.9,1.9 0 1,0 3.80,0a1.9,1.9 0 1,0 -3.80,0M70.80,160.90a1.9,1.9 0 1,0 3.80,0a1.9,1.9 0 1,0 -3.80,0M75.64,161.14a1.9,1.9 0 1,0 3.80,0a1.9,1.9 0 1,0 -3.80,0M80.47,161.47a1.9,1.9 0 1,0 3.80,0a1.9,1.9 0 1,0 -3.80,0M85.31,162.90a1.9,1.9 0 1,0 3.80,0a1.9,1.9 0 1,0 -3.80,0M90.14,164.64a1.9,1.9 0 1,0 3.80,0a1.9,1.9 0 1,0 -3.80,0M94.98,166.83a1.9,1.9 0 1,0 3.80,0a1.9,1.9 0 1,0 -3.80,0M99.81,168.71a1.9,1.9 0 1,0 3.80,0a1.9,1.9 0 1,0 -3.80,0M104.65,171.27a1.9,1.9 0 1,0 3.80,0a1.9,1.9 0 1,0 -3.80,0M109.48,174.94a1.9,1.9 0 1,0 3.80,0a1.9,1.9 0 1,0 -3.80,0M114.32,178.53a1.9,1.9 0 1,0 3.80,0a1.9,1.9 0 1,0 -3.80,0M119.15,181.65a1.9,1.9 0 1,0 3.80,0a1.9,1.9 0 1,0 -3.80,0M123.99,184.95a1.9,1.9 0 1,0 3.80,0a1.9,1.9 0 1,0 -3.80,0M128.82,189.02a1.9,1.9 0 1,0 3.80,0a1.9,1.9 0 1,0 -3.80,0M133.66,192.34a1.9,1.9 0 1,0 3.80,0a1.9,1.9 0 1,0 -3.80,0M138.49,195.05a1.9,1.9 0 1,0 3.80,0a1.9,1.9 0 1,0 -3.80,0M143.33,197.64a1.9,1.9 0 1,0 3.80,0a1.9,1.9 0 1,0 -3.80,0M148.16,200.81a1.9,1.9 0 1,0 3.80,0a1.9,1.9 0 1,0 -3.80,0M153.00,202.22a1.9,1.9 0 1,0 3.80,0a1.9,1.9 0 1,0 -3.80,0M157.83,201.73a1.9,1.9 0 1,0 3.80,0a1.9,1.9 0 1,0 -3.80,0M162.67,199.51a1.9,1.9 0 1,0 3.80,0a1.9,1.9 0 1,0 -3.80,0M167.50,196.21a1.9,1.9 0 1,0 3.80,0a1.9,1.9 0 1,0 -3.80,0M172.34,192.89a1.9,1.9 0 1,0 3.80,0a1.9,1.9 0 1,0 -3.80,0M177.18,191.50a1.9,1.9 0 1,0 3.80,0a1.9,1.9 0 1,0 -3.80,0M182.01,191.37a1.9,1.9 0 1,0 3.80,0a1.9,1.9 0 1,0 -3.80,0M186.85,192.06a1.9,1.9 0 1,0 3.80,0a1.9,1.9 0 1,0 -3.80,0M191.68,193.87a1.9,1.9 0 1,0 3.80,0a1.9,1.9 0 1,0 -3.80,0M196.52,199.69a1.9,1.9 0 1,0 3.80,0a1.9,1.9 0 1,0 -3.80,0M201.35,209.00a1.9,1.9 0 1,0 3.80,0a1.9,1.9 0 1,0 -3.80,0M206.19,200.01a1.9,1.9 0 1,0 3.80,0a1.9,1.9 0 1,0 -3.80,0M211.02,184.62a1.9,1.9 0 1,0 3.80,0a1.9,1.9 0 1,0 -3.80,0M215.86,173.67a1.9,1.9 0 1,0 3.80,0a1.9,1.9 0 1,0 -3.80,0M220.69,167.48a1.9,1.9 0 1,0 3.80,0a1.9,1.9 0 1,0 -3.80,0M225.53,163.66a1.9,1.9 0 1,0 3.80,0a1.9,1.9 0 1,0 -3.80,0M230.36,163.17a1.9,1.9 0 1,0 3.80,0a1.9,1.9 0 1,0 -3.80,0M235.20,165.02a1.9,1.9 0 1,0 3.80,0a1.9,1.9 0 1,0 -3.80,0M240.03,168.42a1.9,1.9 0 1,0 3.80,0a1.9,1.9 0 1,0 -3.80,0M244.87,172.18a1.9,1.9 0 1,0 3.80,0a1.9,1.9 0 1,0 -3.80,0M249.70,176.12a1.9,1.9 0 1,0 3.80,0a1.9,1.9 0 1,0 -3.80,0M254.54,178.20a1.9,1.9 0 1,0 3.80,0a1.9,1.9 0 1,0 -3.80,0M259.37,175.64a1.9,1.9 0 1,0 3.80,0a1.9,1.9 0 1,0 -3.80,0M264.21,169.26a1.9,1.9 0 1,0 3.80,0a1.9,1.9 0 1,0 -3.80,0M269.04,164.58a1.9,1.9 0 1,0 3.80,0a1.9,1.9 0 1,0 -3.80,0M273.88,164.46a1.9,1.9 0 1,0 3.80,0a1.9,1.9 0 1,0 -3.80,0M278.71,166.68a1.9,1.9 0 1,0 3.80,0a1.9,1.9 0 1,0 -3.80,0M283.55,173.38a1.9,1.9 0 1,0 3.80,0a1.9,1.9 0 1,0 -3.80,0M288.38,181.68a1.9,1.9 0 1,0 3.80,0a1.9,1.9 0 1,0 -3.80,0M293.21,191.54a1.9,1.9 0 1,0 3.80,0a1.9,1.9 0 1,0 -3.80,0M298.05,202.92a1.9,1.9 0 1,0 3.80,0a1.9,1.9 0 1,0 -3.80,0M302.88,216.69a1.9,1.9 0 1,0 3.80,0a1.9,1.9 0 1,0 -3.80,0M307.72,218.56a1.9,1.9 0 1,0 3.80,0a1.9,1.9 0 1,0 -3.80,0M312.55,212.39a1.9,1.9 0 1,0 3.80,0a1.9,1.9 0 1,0 -3.80,0M317.39,217.30a1.9,1.9 0 1,0 3.80,0a1.9,1.9 0 1,0 -3.80,0M322.22,219.00a1.9,1.9 0 1,0 3.80,0a1.9,1.9 0 1,0 -3.80,0M56.30,168.53a1.9,1.9 0 1,0 3.80,0a1.9,1.9 0 1,0 -3.80,0M61.14,164.73a1.9,1.9 0 1,0 3.80,0a1.9,1.9 0 1,0 -3.80,0M65.97,161.97a1.9,1.9 0 1,0 3.80,0a1.9,1.9 0 1,0 -3.80,0M70.80,162.21a1.9,1.9 0 1,0 3.80,0a1.9,1.9 0 1,0 -3.80,0M75.64,166.00a1.9,1.9 0 1,0 3.80,0a1.9,1.9 0 1,0 -3.80,0M80.47,170.85a1.9,1.9 0 1,0 3.80,0a1.9,1.9 0 1,0 -3.80,0M85.31,176.87a1.9,1.9 0 1,0 3.80,0a1.9,1.9 0 1,0 -3.80,0M90.14,185.76a1.9,1.9 0 1,0 3.80,0a1.9,1.9 0 1,0 -3.80,0M94.98,199.95a1.9,1.9 0 1,0 3.80,0a1.9,1.9 0 1,0 -3.80,0M99.81,220.20a1.9,1.9 0 1,0 3.80,0a1.9,1.9 0 1,0 -3.80,0M104.65,236.61a1.9,1.9 0 1,0 3.80,0a1.9,1.9 0 1,0 -3.80,0M109.48,212.50a1.9,1.9 0 1,0 3.80,0a1.9,1.9 0 1,0 -3.80,0M114.32,198.63a1.9,1.9 0 1,0 3.80,0a1.9,1.9 0 1,0 -3.80,0M119.15,195.82a1.9,1.9 0 1,0 3.80,0a1.9,1.9 0 1,0 -3.80,0M123.99,193.60a1.9,1.9 0 1,0 3.80,0a1.9,1.9 0 1,0 -3.80,0M128.82,191.25a1.9,1.9 0 1,0 3.80,0a1.9,1.9 0 1,0 -3.80,0M133.66,192.37a1.9,1.9 0 1,0 3.80,0a1.9,1.9 0 1,0 -3.80,0M138.49,195.16a1.9,1.9 0 1,0 3.80,0a1.9,1.9 0 1,0 -3.80,0M143.33,197.84a1.9,1.9 0 1,0 3.80,0a1.9,1.9 0 1,0 -3.80,0M123.99,214.40a1.9,1.9 0 1,0 3.80,0a1.9,1.9 0 1,0 -3.80,0M128.82,215.51a1.9,1.9 0 1,0 3.80,0a1.9,1.9 0 1,0 -3.80,0M133.66,228.72a1.9,1.9 0 1,0 3.80,0a1.9,1.9 0 1,0 -3.80,0M143.33,217.03a1.9,1.9 0 1,0 3.80,0a1.9,1.9 0 1,0 -3.80,0M148.16,192.71a1.9,1.9 0 1,0 3.80,0a1.9,1.9 0 1,0 -3.80,0M153.00,180.94a1.9,1.9 0 1,0 3.80,0a1.9,1.9 0 1,0 -3.80,0M157.83,176.24a1.9,1.9 0 1,0 3.80,0a1.9,1.9 0 1,0 -3.80,0M162.67,173.31a1.9,1.9 0 1,0 3.80,0a1.9,1.9 0 1,0 -3.80,0M167.50,172.85a1.9,1.9 0 1,0 3.80,0a1.9,1.9 0 1,0 -3.80,0M172.34,176.49a1.9,1.9 0 1,0 3.80,0a1.9,1.9 0 1,0 -3.80,0M177.18,183.10a1.9,1.9 0 1,0 3.80,0a1.9,1.9 0 1,0 -3.80,0M182.01,195.03a1.9,1.9 0 1,0 3.80,0a1.9,1.9 0 1,0 -3.80,0M186.85,207.89a1.9,1.9 0 1,0 3.80,0a1.9,1.9 0 1,0 -3.80,0M191.68,220.65a1.9,1.9 0 1,0 3.80,0a1.9,1.9 0 1,0 -3.80,0M211.02,219.18a1.9,1.9 0 1,0 3.80,0a1.9,1.9 0 1,0 -3.80,0M215.86,199.56a1.9,1.9 0 1,0 3.80,0a1.9,1.9 0 1,0 -3.80,0M220.69,189.49a1.9,1.9 0 1,0 3.80,0a1.9,1.9 0 1,0 -3.80,0M225.53,185.94a1.9,1.9 0 1,0 3.80,0a1.9,1.9 0 1,0 -3.80,0M230.36,185.28a1.9,1.9 0 1,0 3.80,0a1.9,1.9 0 1,0 -3.80,0M235.20,187.17a1.9,1.9 0 1,0 3.80,0a1.9,1.9 0 1,0 -3.80,0M240.03,191.16a1.9,1.9 0 1,0 3.80,0a1.9,1.9 0 1,0 -3.80,0M244.87,195.97a1.9,1.9 0 1,0 3.80,0a1.9,1.9 0 1,0 -3.80,0M249.70,199.65a1.9,1.9 0 1,0 3.80,0a1.9,1.9 0 1,0 -3.80,0M254.54,198.90a1.9,1.9 0 1,0 3.80,0a1.9,1.9 0 1,0 -3.80,0M259.37,197.69a1.9,1.9 0 1,0 3.80,0a1.9,1.9 0 1,0 -3.80,0M264.21,193.74a1.9,1.9 0 1,0 3.80,0a1.9,1.9 0 1,0 -3.80,0M269.04,188.46a1.9,1.9 0 1,0 3.80,0a1.9,1.9 0 1,0 -3.80,0M273.88,184.29a1.9,1.9 0 1,0 3.80,0a1.9,1.9 0 1,0 -3.80,0M278.71,180.58a1.9,1.9 0 1,0 3.80,0a1.9,1.9 0 1,0 -3.80,0M283.55,177.84a1.9,1.9 0 1,0 3.80,0a1.9,1.9 0 1,0 -3.80,0M288.38,175.73a1.9,1.9 0 1,0 3.80,0a1.9,1.9 0 1,0 -3.80,0M293.21,173.88a1.9,1.9 0 1,0 3.80,0a1.9,1.9 0 1,0 -3.80,0M298.05,172.05a1.9,1.9 0 1,0 3.80,0a1.9,1.9 0 1,0 -3.80,0M302.88,170.23a1.9,1.9 0 1,0 3.80,0a1.9,1.9 0 1,0 -3.80,0M307.72,168.39a1.9,1.9 0 1,0 3.80,0a1.9,1.9 0 1,0 -3.80,0M312.55,166.59a1.9,1.9 0 1,0 3.80,0a1.9,1.9 0 1,0 -3.80,0M317.39,164.64a1.9,1.9 0 1,0 3.80,0a1.9,1.9 0 1,0 -3.80,0M322.22,162.73a1.9,1.9 0 1,0 3.80,0a1.9,1.9 0 1,0 -3.80,0M128.82,235.44a1.9,1.9 0 1,0 3.80,0a1.9,1.9 0 1,0 -3.80,0M133.66,226.04a1.9,1.9 0 1,0 3.80,0a1.9,1.9 0 1,0 -3.80,0M138.49,235.72a1.9,1.9 0 1,0 3.80,0a1.9,1.9 0 1,0 -3.80,0M56.30,183.01a1.9,1.9 0 1,0 3.80,0a1.9,1.9 0 1,0 -3.80,0M61.14,194.68a1.9,1.9 0 1,0 3.80,0a1.9,1.9 0 1,0 -3.80,0M65.97,211.83a1.9,1.9 0 1,0 3.80,0a1.9,1.9 0 1,0 -3.80,0M80.47,226.69a1.9,1.9 0 1,0 3.80,0a1.9,1.9 0 1,0 -3.80,0M85.31,217.11a1.9,1.9 0 1,0 3.80,0a1.9,1.9 0 1,0 -3.80,0M90.14,221.20a1.9,1.9 0 1,0 3.80,0a1.9,1.9 0 1,0 -3.80,0M99.81,219.87a1.9,1.9 0 1,0 3.80,0a1.9,1.9 0 1,0 -3.80,0M104.65,183.82a1.9,1.9 0 1,0 3.80,0a1.9,1.9 0 1,0 -3.80,0M109.48,185.12a1.9,1.9 0 1,0 3.80,0a1.9,1.9 0 1,0 -3.80,0M114.32,193.44a1.9,1.9 0 1,0 3.80,0a1.9,1.9 0 1,0 -3.80,0M119.15,219.50a1.9,1.9 0 1,0 3.80,0a1.9,1.9 0 1,0 -3.80,0M56.30,178.99a1.9,1.9 0 1,0 3.80,0a1.9,1.9 0 1,0 -3.80,0M61.14,187.64a1.9,1.9 0 1,0 3.80,0a1.9,1.9 0 1,0 -3.80,0M65.97,198.72a1.9,1.9 0 1,0 3.80,0a1.9,1.9 0 1,0 -3.80,0M70.80,218.02a1.9,1.9 0 1,0 3.80,0a1.9,1.9 0 1,0 -3.80,0M90.14,230.47a1.9,1.9 0 1,0 3.80,0a1.9,1.9 0 1,0 -3.80,0M94.98,199.43a1.9,1.9 0 1,0 3.80,0a1.9,1.9 0 1,0 -3.80,0M99.81,184.10a1.9,1.9 0 1,0 3.80,0a1.9,1.9 0 1,0 -3.80,0M104.65,182.51a1.9,1.9 0 1,0 3.80,0a1.9,1.9 0 1,0 -3.80,0M109.48,188.18a1.9,1.9 0 1,0 3.80,0a1.9,1.9 0 1,0 -3.80,0M114.32,214.31a1.9,1.9 0 1,0 3.80,0a1.9,1.9 0 1,0 -3.80,0M119.15,228.94a1.9,1.9 0 1,0 3.80,0a1.9,1.9 0 1,0 -3.80,0M123.99,201.34a1.9,1.9 0 1,0 3.80,0a1.9,1.9 0 1,0 -3.80,0M128.82,189.35a1.9,1.9 0 1,0 3.80,0a1.9,1.9 0 1,0 -3.80,0M133.66,181.29a1.9,1.9 0 1,0 3.80,0a1.9,1.9 0 1,0 -3.80,0M138.49,172.58a1.9,1.9 0 1,0 3.80,0a1.9,1.9 0 1,0 -3.80,0M143.33,168.63a1.9,1.9 0 1,0 3.80,0a1.9,1.9 0 1,0 -3.80,0M148.16,169.59a1.9,1.9 0 1,0 3.80,0a1.9,1.9 0 1,0 -3.80,0M153.00,172.11a1.9,1.9 0 1,0 3.80,0a1.9,1.9 0 1,0 -3.80,0M157.83,176.11a1.9,1.9 0 1,0 3.80,0a1.9,1.9 0 1,0 -3.80,0M162.67,179.50a1.9,1.9 0 1,0 3.80,0a1.9,1.9 0 1,0 -3.80,0M167.50,186.15a1.9,1.9 0 1,0 3.80,0a1.9,1.9 0 1,0 -3.80,0M172.34,194.21a1.9,1.9 0 1,0 3.80,0a1.9,1.9 0 1,0 -3.80,0M177.18,207.16a1.9,1.9 0 1,0 3.80,0a1.9,1.9 0 1,0 -3.80,0M182.01,221.73a1.9,1.9 0 1,0 3.80,0a1.9,1.9 0 1,0 -3.80,0M186.85,236.24a1.9,1.9 0 1,0 3.80,0a1.9,1.9 0 1,0 -3.80,0M167.50,200.70a1.9,1.9 0 1,0 3.80,0a1.9,1.9 0 1,0 -3.80,0M172.34,190.04a1.9,1.9 0 1,0 3.80,0a1.9,1.9 0 1,0 -3.80,0M177.18,184.23a1.9,1.9 0 1,0 3.80,0a1.9,1.9 0 1,0 -3.80,0M182.01,179.68a1.9,1.9 0 1,0 3.80,0a1.9,1.9 0 1,0 -3.80,0M186.85,176.42a1.9,1.9 0 1,0 3.80,0a1.9,1.9 0 1,0 -3.80,0M191.68,177.07a1.9,1.9 0 1,0 3.80,0a1.9,1.9 0 1,0 -3.80,0M196.52,180.73a1.9,1.9 0 1,0 3.80,0a1.9,1.9 0 1,0 -3.80,0M201.35,188.58a1.9,1.9 0 1,0 3.80,0a1.9,1.9 0 1,0 -3.80,0M206.19,206.32a1.9,1.9 0 1,0 3.80,0a1.9,1.9 0 1,0 -3.80,0M211.02,220.73a1.9,1.9 0 1,0 3.80,0a1.9,1.9 0 1,0 -3.80,0M215.86,217.32a1.9,1.9 0 1,0 3.80,0a1.9,1.9 0 1,0 -3.80,0M220.69,215.24a1.9,1.9 0 1,0 3.80,0a1.9,1.9 0 1,0 -3.80,0M225.53,214.94a1.9,1.9 0 1,0 3.80,0a1.9,1.9 0 1,0 -3.80,0M230.36,217.60a1.9,1.9 0 1,0 3.80,0a1.9,1.9 0 1,0 -3.80,0M235.20,227.95a1.9,1.9 0 1,0 3.80,0a1.9,1.9 0 1,0 -3.80,0M244.87,222.64a1.9,1.9 0 1,0 3.80,0a1.9,1.9 0 1,0 -3.80,0M249.70,204.75a1.9,1.9 0 1,0 3.80,0a1.9,1.9 0 1,0 -3.80,0M254.54,194.22a1.9,1.9 0 1,0 3.80,0a1.9,1.9 0 1,0 -3.80,0M259.37,186.72a1.9,1.9 0 1,0 3.80,0a1.9,1.9 0 1,0 -3.80,0M264.21,178.68a1.9,1.9 0 1,0 3.80,0a1.9,1.9 0 1,0 -3.80,0M269.04,171.62a1.9,1.9 0 1,0 3.80,0a1.9,1.9 0 1,0 -3.80,0M273.88,167.76a1.9,1.9 0 1,0 3.80,0a1.9,1.9 0 1,0 -3.80,0M278.71,167.21a1.9,1.9 0 1,0 3.80,0a1.9,1.9 0 1,0 -3.80,0M283.55,166.33a1.9,1.9 0 1,0 3.80,0a1.9,1.9 0 1,0 -3.80,0M288.38,167.30a1.9,1.9 0 1,0 3.80,0a1.9,1.9 0 1,0 -3.80,0M293.21,171.77a1.9,1.9 0 1,0 3.80,0a1.9,1.9 0 1,0 -3.80,0M298.05,175.21a1.9,1.9 0 1,0 3.80,0a1.9,1.9 0 1,0 -3.80,0M302.88,178.27a1.9,1.9 0 1,0 3.80,0a1.9,1.9 0 1,0 -3.80,0M307.72,181.39a1.9,1.9 0 1,0 3.80,0a1.9,1.9 0 1,0 -3.80,0M312.55,184.20a1.9,1.9 0 1,0 3.80,0a1.9,1.9 0 1,0 -3.80,0M317.39,185.96a1.9,1.9 0 1,0 3.80,0a1.9,1.9 0 1,0 -3.80,0M322.22,187.55a1.9,1.9 0 1,0 3.80,0a1.9,1.9 0 1,0 -3.80,0M220.69,186.46a1.9,1.9 0 1,0 3.80,0a1.9,1.9 0 1,0 -3.80,0M225.53,179.99a1.9,1.9 0 1,0 3.80,0a1.9,1.9 0 1,0 -3.80,0M230.36,176.83a1.9,1.9 0 1,0 3.80,0a1.9,1.9 0 1,0 -3.80,0M235.20,175.13a1.9,1.9 0 1,0 3.80,0a1.9,1.9 0 1,0 -3.80,0M240.03,173.46a1.9,1.9 0 1,0 3.80,0a1.9,1.9 0 1,0 -3.80,0M244.87,171.11a1.9,1.9 0 1,0 3.80,0a1.9,1.9 0 1,0 -3.80,0M249.70,169.82a1.9,1.9 0 1,0 3.80,0a1.9,1.9 0 1,0 -3.80,0M254.54,166.77a1.9,1.9 0 1,0 3.80,0a1.9,1.9 0 1,0 -3.80,0M259.37,164.04a1.9,1.9 0 1,0 3.80,0a1.9,1.9 0 1,0 -3.80,0M264.21,163.19a1.9,1.9 0 1,0 3.80,0a1.9,1.9 0 1,0 -3.80,0M269.04,163.74a1.9,1.9 0 1,0 3.80,0a1.9,1.9 0 1,0 -3.80,0M273.88,170.04a1.9,1.9 0 1,0 3.80,0a1.9,1.9 0 1,0 -3.80,0M278.71,176.46a1.9,1.9 0 1,0 3.80,0a1.9,1.9 0 1,0 -3.80,0M283.55,184.16a1.9,1.9 0 1,0 3.80,0a1.9,1.9 0 1,0 -3.80,0M288.38,205.13a1.9,1.9 0 1,0 3.80,0a1.9,1.9 0 1,0 -3.80,0M293.21,218.46a1.9,1.9 0 1,0 3.80,0a1.9,1.9 0 1,0 -3.80,0M298.05,228.72a1.9,1.9 0 1,0 3.80,0a1.9,1.9 0 1,0 -3.80,0M302.88,233.45a1.9,1.9 0 1,0 3.80,0a1.9,1.9 0 1,0 -3.80,0M307.72,220.43a1.9,1.9 0 1,0 3.80,0a1.9,1.9 0 1,0 -3.80,0M312.55,206.80a1.9,1.9 0 1,0 3.80,0a1.9,1.9 0 1,0 -3.80,0M317.39,189.42a1.9,1.9 0 1,0 3.80,0a1.9,1.9 0 1,0 -3.80,0M322.22,180.95a1.9,1.9 0 1,0 3.80,0a1.9,1.9 0 1,0 -3.80,0M143.33,230.82a1.9,1.9 0 1,0 3.80,0a1.9,1.9 0 1,0 -3.80,0M148.16,209.23a1.9,1.9 0 1,0 3.80,0a1.9,1.9 0 1,0 -3.80,0M153.00,193.12a1.9,1.9 0 1,0 3.80,0a1.9,1.9 0 1,0 -3.80,0M157.83,184.60a1.9,1.9 0 1,0 3.80,0a1.9,1.9 0 1,0 -3.80,0M162.67,175.85a1.9,1.9 0 1,0 3.80,0a1.9,1.9 0 1,0 -3.80,0M200.60,226.40a1.9,1.9 0 1,0 3.80,0a1.9,1.9 0 1,0 -3.80,0M206.30,226.40a1.9,1.9 0 1,0 3.80,0a1.9,1.9 0 1,0 -3.80,0M219.00,198.20a1.9,1.9 0 1,0 3.80,0a1.9,1.9 0 1,0 -3.80,0M226.10,188.30a1.9,1.9 0 1,0 3.80,0a1.9,1.9 0 1,0 -3.80,0M302.20,163.90a1.9,1.9 0 1,0 3.80,0a1.9,1.9 0 1,0 -3.80,0M306.90,161.50a1.9,1.9 0 1,0 3.80,0a1.9,1.9 0 1,0 -3.80,0" stroke="#1e1e1e" stroke-width="0.8" fill="none"/>
<g clip-path="url(#clip4)"><path d="M412.50,174.00C412.95,174.30 413.97,174.70 415.20,175.80C416.43,176.90 418.32,178.73 419.90,180.60C421.48,182.47 423.30,185.10 424.70,187.00C426.10,188.90 427.17,190.08 428.30,192.00C429.43,193.92 430.42,195.52 431.50,198.50C432.58,201.48 433.85,205.83 434.80,209.90C435.75,213.97 436.67,219.70 437.20,222.90C437.73,226.10 437.60,229.37 438.00,229.10C438.40,228.83 439.05,223.68 439.60,221.30C440.15,218.92 440.62,217.52 441.30,214.80C441.98,212.08 442.90,207.98 443.70,205.00C444.50,202.02 445.28,199.63 446.10,196.90C446.92,194.17 447.40,191.58 448.60,188.60C449.80,185.62 451.98,181.92 453.30,179.00C454.62,176.08 455.43,173.22 456.50,171.10C457.57,168.98 458.37,167.50 459.70,166.30C461.03,165.10 462.92,164.17 464.50,163.90C466.08,163.63 467.62,164.03 469.20,164.70C470.78,165.37 472.40,166.43 474.00,167.90C475.60,169.37 477.47,171.48 478.80,173.50C480.13,175.52 480.97,177.25 482.00,180.00C483.03,182.75 483.95,186.50 485.00,190.00C486.05,193.50 487.27,197.00 488.30,201.00C489.33,205.00 490.50,211.25 491.20,214.00C491.90,216.75 491.98,217.92 492.50,217.50C493.02,217.08 493.60,214.12 494.30,211.50C495.00,208.88 495.90,205.05 496.70,201.80C497.50,198.55 497.98,194.73 499.10,192.00C500.22,189.27 501.88,187.83 503.40,185.40C504.92,182.97 506.60,179.78 508.20,177.40C509.80,175.02 511.42,173.22 513.00,171.10C514.58,168.98 516.12,165.90 517.70,164.70C519.28,163.50 520.90,163.63 522.50,163.90C524.10,164.17 525.70,165.63 527.30,166.30C528.90,166.97 530.52,167.10 532.10,167.90C533.68,168.70 535.22,169.78 536.80,171.10C538.38,172.42 540.00,174.15 541.60,175.80C543.20,177.45 545.17,178.80 546.40,181.00C547.63,183.20 548.18,186.08 549.00,189.00C549.82,191.92 550.50,196.08 551.30,198.50C552.10,200.92 552.98,202.28 553.80,203.50C554.62,204.72 555.42,205.88 556.20,205.80C556.98,205.72 557.82,203.95 558.50,203.00C559.18,202.05 559.20,201.67 560.30,200.10C561.40,198.53 563.32,196.32 565.10,193.60C566.88,190.88 569.22,186.65 571.00,183.80C572.78,180.95 574.20,178.22 575.80,176.50C577.40,174.78 578.95,174.10 580.60,173.50C582.25,172.90 583.92,172.88 585.70,172.90C587.48,172.92 589.42,173.13 591.30,173.60C593.18,174.07 595.12,174.80 597.00,175.70C598.88,176.60 601.18,178.32 602.60,179.00C604.02,179.68 604.43,179.88 605.50,179.80C606.57,179.72 607.83,179.22 609.00,178.50C610.17,177.78 611.27,176.47 612.50,175.50C613.73,174.53 614.70,173.70 616.40,172.70C618.10,171.70 620.85,170.17 622.70,169.50C624.55,168.83 625.90,168.57 627.50,168.70C629.10,168.83 630.72,169.50 632.30,170.30C633.88,171.10 635.42,172.32 637.00,173.50C638.58,174.68 640.20,175.68 641.80,177.40C643.40,179.12 645.32,181.53 646.60,183.80C647.88,186.07 648.42,188.55 649.50,191.00C650.58,193.45 651.97,195.08 653.10,198.50C654.23,201.92 655.35,207.43 656.30,211.50C657.25,215.57 658.25,220.18 658.80,222.90C659.35,225.62 659.20,228.35 659.60,227.80C660.00,227.25 660.53,222.85 661.20,219.60C661.87,216.35 662.78,211.82 663.60,208.30C664.42,204.78 665.28,201.22 666.10,198.50C666.92,195.78 667.68,193.75 668.50,192.00C669.32,190.25 670.15,189.00 671.00,188.00C671.85,187.00 672.63,187.50 673.60,186.00C674.57,184.50 675.73,181.48 676.80,179.00C677.87,176.52 678.95,172.95 680.00,171.10C681.05,169.25 682.18,168.58 683.10,167.90C684.02,167.22 685.10,167.15 685.50,167.00" stroke="#2a2a2a" stroke-width="0.9" fill="none"/>
<path d="M412.50,175.00C413.48,175.13 416.63,174.60 418.40,175.80C420.17,177.00 421.52,180.07 423.10,182.20C424.68,184.33 426.23,186.97 427.90,188.60C429.57,190.23 431.68,190.35 433.10,192.00C434.52,193.65 435.45,195.25 436.40,198.50C437.35,201.75 437.98,207.17 438.80,211.50C439.62,215.83 440.67,221.65 441.30,224.50C441.93,227.35 442.20,228.87 442.60,228.60C443.00,228.33 443.25,224.93 443.70,222.90C444.15,220.87 444.62,219.38 445.30,216.40C445.98,213.42 446.98,208.12 447.80,205.00C448.62,201.88 449.28,200.70 450.20,197.70C451.12,194.70 452.25,190.38 453.30,187.00C454.35,183.62 455.43,180.05 456.50,177.40C457.57,174.75 458.63,173.08 459.70,171.10C460.77,169.12 461.70,166.78 462.90,165.50C464.10,164.22 465.58,163.53 466.90,163.40C468.22,163.27 469.35,163.82 470.80,164.70C472.25,165.58 474.00,167.15 475.60,168.70C477.20,170.25 478.83,171.95 480.40,174.00C481.97,176.05 483.57,178.67 485.00,181.00C486.43,183.33 487.60,185.08 489.00,188.00C490.40,190.92 492.25,194.58 493.40,198.50C494.55,202.42 495.22,207.17 495.90,211.50C496.58,215.83 497.02,220.08 497.50,224.50C497.98,228.92 498.47,235.08 498.80,238.00C499.13,240.92 499.25,242.00 499.50,242.00C499.75,242.00 499.95,241.45 500.30,238.00C500.65,234.55 501.12,225.72 501.60,221.30C502.08,216.88 502.53,214.75 503.20,211.50C503.87,208.25 504.78,204.23 505.60,201.80C506.42,199.37 507.28,198.27 508.10,196.90C508.92,195.53 509.68,195.52 510.50,193.60C511.32,191.68 511.80,188.10 513.00,185.40C514.20,182.70 516.12,179.65 517.70,177.40C519.28,175.15 520.90,173.48 522.50,171.90C524.10,170.32 525.70,168.57 527.30,167.90C528.90,167.23 530.52,167.37 532.10,167.90C533.68,168.43 535.32,170.08 536.80,171.10C538.28,172.12 539.72,173.77 541.00,174.00C542.28,174.23 543.20,173.52 544.50,172.50C545.80,171.48 547.30,169.15 548.80,167.90C550.30,166.65 551.92,165.40 553.50,165.00C555.08,164.60 556.70,164.88 558.30,165.50C559.90,166.12 561.52,167.23 563.10,168.70C564.68,170.17 566.22,172.32 567.80,174.30C569.38,176.28 571.00,178.75 572.60,180.60C574.20,182.45 575.80,183.55 577.40,185.40C579.00,187.25 580.72,189.52 582.20,191.70C583.68,193.88 584.95,194.93 586.30,198.50C587.65,202.07 589.22,208.50 590.30,213.10C591.38,217.70 592.12,221.95 592.80,226.10C593.48,230.25 593.93,235.35 594.40,238.00C594.87,240.65 595.20,242.00 595.60,242.00C596.00,242.00 596.32,240.37 596.80,238.00C597.28,235.63 597.82,231.67 598.50,227.80C599.18,223.93 599.82,219.00 600.90,214.80C601.98,210.60 603.53,205.93 605.00,202.60C606.47,199.27 608.20,196.82 609.70,194.80C611.20,192.78 612.58,191.68 614.00,190.50C615.42,189.32 616.08,188.63 618.20,187.70C620.32,186.77 624.12,185.85 626.70,184.90C629.28,183.95 631.58,182.95 633.70,182.00C635.82,181.05 637.50,180.25 639.40,179.20C641.30,178.15 643.50,176.90 645.10,175.70C646.70,174.50 647.70,173.17 649.00,172.00C650.30,170.83 651.45,168.85 652.90,168.70C654.35,168.55 656.10,169.92 657.70,171.10C659.30,172.28 661.12,173.48 662.50,175.80C663.88,178.12 664.87,180.67 666.00,185.00C667.13,189.33 668.33,196.30 669.30,201.80C670.27,207.30 671.07,213.00 671.80,218.00C672.53,223.00 673.17,230.72 673.70,231.80C674.23,232.88 674.52,227.88 675.00,224.50C675.48,221.12 675.92,215.57 676.60,211.50C677.28,207.43 678.28,203.08 679.10,200.10C679.92,197.12 680.43,195.95 681.50,193.60C682.57,191.25 684.83,187.27 685.50,186.00" stroke="#2a2a2a" stroke-width="0.9" fill="none"/>
<path d="M412.50,173.50C413.08,173.32 414.63,172.80 416.00,172.40C417.37,172.00 419.03,171.32 420.70,171.10C422.37,170.88 424.27,170.97 426.00,171.10C427.73,171.23 429.47,171.37 431.10,171.90C432.73,172.43 434.22,173.52 435.80,174.30C437.38,175.08 439.00,176.08 440.60,176.60C442.20,177.12 443.80,177.13 445.40,177.40C447.00,177.67 448.62,177.80 450.20,178.20C451.78,178.60 453.27,179.33 454.90,179.80C456.53,180.27 457.48,180.63 460.00,181.00C462.52,181.37 467.00,181.75 470.00,182.00C473.00,182.25 475.60,182.67 478.00,182.50C480.40,182.33 482.55,181.98 484.40,181.00C486.25,180.02 487.52,178.52 489.10,176.60C490.68,174.68 492.30,171.27 493.90,169.50C495.50,167.73 497.12,166.40 498.70,166.00C500.28,165.60 501.82,166.38 503.40,167.10C504.98,167.82 506.60,169.10 508.20,170.30C509.80,171.50 511.42,173.12 513.00,174.30C514.58,175.48 516.12,176.75 517.70,177.40C519.28,178.05 520.90,177.67 522.50,178.20C524.10,178.73 525.70,179.80 527.30,180.60C528.90,181.40 530.52,182.20 532.10,183.00C533.68,183.80 535.22,184.33 536.80,185.40C538.38,186.47 540.23,187.97 541.60,189.40C542.97,190.83 544.05,192.48 545.00,194.00C545.95,195.52 546.38,195.85 547.30,198.50C548.22,201.15 549.57,206.10 550.50,209.90C551.43,213.70 552.22,217.78 552.90,221.30C553.58,224.82 554.18,228.22 554.60,231.00C555.02,233.78 555.07,236.17 555.40,238.00C555.73,239.83 556.20,242.00 556.60,242.00C557.00,242.00 557.33,240.92 557.80,238.00C558.27,235.08 558.72,228.92 559.40,224.50C560.08,220.08 561.12,215.42 561.90,211.50C562.68,207.58 563.33,204.37 564.10,201.00C564.87,197.63 565.45,195.30 566.50,191.30C567.55,187.30 569.15,180.72 570.40,177.00C571.65,173.28 572.57,171.07 574.00,169.00C575.43,166.93 577.50,165.18 579.00,164.60C580.50,164.02 581.88,164.95 583.00,165.50C584.12,166.05 584.32,166.80 585.70,167.90C587.08,169.00 589.42,170.68 591.30,172.10C593.18,173.52 595.12,175.22 597.00,176.40C598.88,177.58 601.18,178.60 602.60,179.20C604.02,179.80 603.93,180.20 605.50,180.00C607.07,179.80 609.88,178.60 612.00,178.00C614.12,177.40 616.23,176.43 618.20,176.40C620.17,176.37 621.92,177.33 623.80,177.80C625.68,178.27 627.37,178.97 629.50,179.20C631.63,179.43 634.25,178.97 636.60,179.20C638.95,179.43 641.37,180.05 643.60,180.60C645.83,181.15 647.65,182.10 650.00,182.50C652.35,182.90 655.37,182.72 657.70,183.00C660.03,183.28 662.15,183.53 664.00,184.20C665.85,184.87 667.20,186.13 668.80,187.00C670.40,187.87 672.00,188.87 673.60,189.40C675.20,189.93 676.42,189.93 678.40,190.20C680.38,190.47 684.32,190.87 685.50,191.00" stroke="#2a2a2a" stroke-width="0.9" fill="none"/>
<path d="M412.50,175.00C413.87,175.13 418.45,175.53 420.70,175.80C422.95,176.07 424.28,176.33 426.00,176.60C427.72,176.87 429.33,177.27 431.00,177.40C432.67,177.53 434.33,177.27 436.00,177.40C437.67,177.53 439.33,177.93 441.00,178.20C442.67,178.47 444.50,178.73 446.00,179.00C447.50,179.27 448.50,179.60 450.00,179.80C451.50,180.00 453.38,179.80 455.00,180.20C456.62,180.60 458.12,180.80 459.70,182.20C461.28,183.60 462.92,186.62 464.50,188.60C466.08,190.58 467.95,192.53 469.20,194.10C470.45,195.67 471.10,197.13 472.00,198.00C472.90,198.87 473.77,199.30 474.60,199.30C475.43,199.30 476.18,198.82 477.00,198.00C477.82,197.18 478.33,195.98 479.50,194.40C480.67,192.82 482.40,190.15 484.00,188.50C485.60,186.85 487.45,184.88 489.10,184.50C490.75,184.12 492.30,185.25 493.90,186.20C495.50,187.15 497.18,188.57 498.70,190.20C500.22,191.83 501.57,194.35 503.00,196.00C504.43,197.65 505.78,198.87 507.30,200.10C508.82,201.33 510.48,202.58 512.10,203.40C513.72,204.22 515.50,205.13 517.00,205.00C518.50,204.87 519.75,203.95 521.10,202.60C522.45,201.25 523.88,198.40 525.10,196.90C526.32,195.40 526.75,194.92 528.40,193.60C530.05,192.28 532.73,190.10 535.00,189.00C537.27,187.90 539.50,187.58 542.00,187.00C544.50,186.42 547.00,186.00 550.00,185.50C553.00,185.00 556.67,184.42 560.00,184.00C563.33,183.58 566.67,183.42 570.00,183.00C573.33,182.58 576.67,182.00 580.00,181.50C583.33,181.00 586.67,180.08 590.00,180.00C593.33,179.92 596.67,180.67 600.00,181.00C603.33,181.33 606.97,182.08 610.00,182.00C613.03,181.92 615.25,180.58 618.20,180.50C621.15,180.42 624.53,181.25 627.70,181.50C630.87,181.75 634.02,181.58 637.20,182.00C640.38,182.42 643.62,183.17 646.80,184.00C649.98,184.83 653.12,185.92 656.30,187.00C659.48,188.08 662.72,189.58 665.90,190.50C669.08,191.42 672.13,192.00 675.40,192.50C678.67,193.00 683.82,193.33 685.50,193.50" stroke="#2a2a2a" stroke-width="0.9" fill="none"/></g><path d="M414.40,176.82a1.9,1.9 0 1,0 3.80,0a1.9,1.9 0 1,0 -3.80,0M419.24,182.14a1.9,1.9 0 1,0 3.80,0a1.9,1.9 0 1,0 -3.80,0M424.07,188.67a1.9,1.9 0 1,0 3.80,0a1.9,1.9 0 1,0 -3.80,0M428.90,196.73a1.9,1.9 0 1,0 3.80,0a1.9,1.9 0 1,0 -3.80,0M433.74,213.91a1.9,1.9 0 1,0 3.80,0a1.9,1.9 0 1,0 -3.80,0M438.57,217.90a1.9,1.9 0 1,0 3.80,0a1.9,1.9 0 1,0 -3.80,0M443.41,199.50a1.9,1.9 0 1,0 3.80,0a1.9,1.9 0 1,0 -3.80,0M448.24,185.26a1.9,1.9 0 1,0 3.80,0a1.9,1.9 0 1,0 -3.80,0M453.08,174.79a1.9,1.9 0 1,0 3.80,0a1.9,1.9 0 1,0 -3.80,0M457.91,166.20a1.9,1.9 0 1,0 3.80,0a1.9,1.9 0 1,0 -3.80,0M462.75,163.88a1.9,1.9 0 1,0 3.80,0a1.9,1.9 0 1,0 -3.80,0M467.58,164.82a1.9,1.9 0 1,0 3.80,0a1.9,1.9 0 1,0 -3.80,0M472.42,168.20a1.9,1.9 0 1,0 3.80,0a1.9,1.9 0 1,0 -3.80,0M477.25,174.05a1.9,1.9 0 1,0 3.80,0a1.9,1.9 0 1,0 -3.80,0M482.09,186.48a1.9,1.9 0 1,0 3.80,0a1.9,1.9 0 1,0 -3.80,0M486.92,203.16a1.9,1.9 0 1,0 3.80,0a1.9,1.9 0 1,0 -3.80,0M491.76,214.03a1.9,1.9 0 1,0 3.80,0a1.9,1.9 0 1,0 -3.80,0M496.59,193.77a1.9,1.9 0 1,0 3.80,0a1.9,1.9 0 1,0 -3.80,0M501.43,185.51a1.9,1.9 0 1,0 3.80,0a1.9,1.9 0 1,0 -3.80,0M506.26,177.45a1.9,1.9 0 1,0 3.80,0a1.9,1.9 0 1,0 -3.80,0M511.10,171.10a1.9,1.9 0 1,0 3.80,0a1.9,1.9 0 1,0 -3.80,0M515.93,164.60a1.9,1.9 0 1,0 3.80,0a1.9,1.9 0 1,0 -3.80,0M520.77,163.93a1.9,1.9 0 1,0 3.80,0a1.9,1.9 0 1,0 -3.80,0M525.60,166.38a1.9,1.9 0 1,0 3.80,0a1.9,1.9 0 1,0 -3.80,0M530.44,168.02a1.9,1.9 0 1,0 3.80,0a1.9,1.9 0 1,0 -3.80,0M535.27,171.42a1.9,1.9 0 1,0 3.80,0a1.9,1.9 0 1,0 -3.80,0M540.11,176.21a1.9,1.9 0 1,0 3.80,0a1.9,1.9 0 1,0 -3.80,0M544.94,181.89a1.9,1.9 0 1,0 3.80,0a1.9,1.9 0 1,0 -3.80,0M549.78,199.56a1.9,1.9 0 1,0 3.80,0a1.9,1.9 0 1,0 -3.80,0M554.62,205.68a1.9,1.9 0 1,0 3.80,0a1.9,1.9 0 1,0 -3.80,0M559.45,198.69a1.9,1.9 0 1,0 3.80,0a1.9,1.9 0 1,0 -3.80,0M564.29,191.88a1.9,1.9 0 1,0 3.80,0a1.9,1.9 0 1,0 -3.80,0M569.12,183.77a1.9,1.9 0 1,0 3.80,0a1.9,1.9 0 1,0 -3.80,0M573.96,176.44a1.9,1.9 0 1,0 3.80,0a1.9,1.9 0 1,0 -3.80,0M578.79,173.47a1.9,1.9 0 1,0 3.80,0a1.9,1.9 0 1,0 -3.80,0M583.63,172.90a1.9,1.9 0 1,0 3.80,0a1.9,1.9 0 1,0 -3.80,0M588.46,173.39a1.9,1.9 0 1,0 3.80,0a1.9,1.9 0 1,0 -3.80,0M593.30,174.90a1.9,1.9 0 1,0 3.80,0a1.9,1.9 0 1,0 -3.80,0M598.13,177.47a1.9,1.9 0 1,0 3.80,0a1.9,1.9 0 1,0 -3.80,0M602.97,179.81a1.9,1.9 0 1,0 3.80,0a1.9,1.9 0 1,0 -3.80,0M607.80,178.00a1.9,1.9 0 1,0 3.80,0a1.9,1.9 0 1,0 -3.80,0M612.64,173.92a1.9,1.9 0 1,0 3.80,0a1.9,1.9 0 1,0 -3.80,0M617.47,171.04a1.9,1.9 0 1,0 3.80,0a1.9,1.9 0 1,0 -3.80,0M622.31,169.02a1.9,1.9 0 1,0 3.80,0a1.9,1.9 0 1,0 -3.80,0M627.14,168.98a1.9,1.9 0 1,0 3.80,0a1.9,1.9 0 1,0 -3.80,0M631.98,171.23a1.9,1.9 0 1,0 3.80,0a1.9,1.9 0 1,0 -3.80,0M636.81,174.74a1.9,1.9 0 1,0 3.80,0a1.9,1.9 0 1,0 -3.80,0M641.65,179.41a1.9,1.9 0 1,0 3.80,0a1.9,1.9 0 1,0 -3.80,0M646.48,188.06a1.9,1.9 0 1,0 3.80,0a1.9,1.9 0 1,0 -3.80,0M651.32,198.86a1.9,1.9 0 1,0 3.80,0a1.9,1.9 0 1,0 -3.80,0M656.15,219.32a1.9,1.9 0 1,0 3.80,0a1.9,1.9 0 1,0 -3.80,0M660.99,211.50a1.9,1.9 0 1,0 3.80,0a1.9,1.9 0 1,0 -3.80,0M665.82,193.80a1.9,1.9 0 1,0 3.80,0a1.9,1.9 0 1,0 -3.80,0M670.66,187.04a1.9,1.9 0 1,0 3.80,0a1.9,1.9 0 1,0 -3.80,0M675.49,177.54a1.9,1.9 0 1,0 3.80,0a1.9,1.9 0 1,0 -3.80,0M680.33,168.54a1.9,1.9 0 1,0 3.80,0a1.9,1.9 0 1,0 -3.80,0M414.40,175.09a1.9,1.9 0 1,0 3.80,0a1.9,1.9 0 1,0 -3.80,0M419.24,179.15a1.9,1.9 0 1,0 3.80,0a1.9,1.9 0 1,0 -3.80,0M424.07,186.29a1.9,1.9 0 1,0 3.80,0a1.9,1.9 0 1,0 -3.80,0M428.90,190.40a1.9,1.9 0 1,0 3.80,0a1.9,1.9 0 1,0 -3.80,0M433.74,196.24a1.9,1.9 0 1,0 3.80,0a1.9,1.9 0 1,0 -3.80,0M438.57,220.43a1.9,1.9 0 1,0 3.80,0a1.9,1.9 0 1,0 -3.80,0M443.41,216.36a1.9,1.9 0 1,0 3.80,0a1.9,1.9 0 1,0 -3.80,0M448.24,197.88a1.9,1.9 0 1,0 3.80,0a1.9,1.9 0 1,0 -3.80,0M453.08,181.66a1.9,1.9 0 1,0 3.80,0a1.9,1.9 0 1,0 -3.80,0M457.91,170.88a1.9,1.9 0 1,0 3.80,0a1.9,1.9 0 1,0 -3.80,0M462.75,164.13a1.9,1.9 0 1,0 3.80,0a1.9,1.9 0 1,0 -3.80,0M467.58,163.96a1.9,1.9 0 1,0 3.80,0a1.9,1.9 0 1,0 -3.80,0M472.42,167.49a1.9,1.9 0 1,0 3.80,0a1.9,1.9 0 1,0 -3.80,0M477.25,172.46a1.9,1.9 0 1,0 3.80,0a1.9,1.9 0 1,0 -3.80,0M482.09,179.36a1.9,1.9 0 1,0 3.80,0a1.9,1.9 0 1,0 -3.80,0M486.92,187.64a1.9,1.9 0 1,0 3.80,0a1.9,1.9 0 1,0 -3.80,0M491.76,199.43a1.9,1.9 0 1,0 3.80,0a1.9,1.9 0 1,0 -3.80,0M496.59,234.97a1.9,1.9 0 1,0 3.80,0a1.9,1.9 0 1,0 -3.80,0M501.43,210.87a1.9,1.9 0 1,0 3.80,0a1.9,1.9 0 1,0 -3.80,0M506.26,196.80a1.9,1.9 0 1,0 3.80,0a1.9,1.9 0 1,0 -3.80,0M511.10,185.40a1.9,1.9 0 1,0 3.80,0a1.9,1.9 0 1,0 -3.80,0M515.93,177.21a1.9,1.9 0 1,0 3.80,0a1.9,1.9 0 1,0 -3.80,0M520.77,171.73a1.9,1.9 0 1,0 3.80,0a1.9,1.9 0 1,0 -3.80,0M525.60,167.82a1.9,1.9 0 1,0 3.80,0a1.9,1.9 0 1,0 -3.80,0M530.44,167.99a1.9,1.9 0 1,0 3.80,0a1.9,1.9 0 1,0 -3.80,0M535.27,171.37a1.9,1.9 0 1,0 3.80,0a1.9,1.9 0 1,0 -3.80,0M540.11,173.99a1.9,1.9 0 1,0 3.80,0a1.9,1.9 0 1,0 -3.80,0M544.94,169.97a1.9,1.9 0 1,0 3.80,0a1.9,1.9 0 1,0 -3.80,0M549.78,165.78a1.9,1.9 0 1,0 3.80,0a1.9,1.9 0 1,0 -3.80,0M554.62,164.97a1.9,1.9 0 1,0 3.80,0a1.9,1.9 0 1,0 -3.80,0M559.45,167.24a1.9,1.9 0 1,0 3.80,0a1.9,1.9 0 1,0 -3.80,0M564.29,172.24a1.9,1.9 0 1,0 3.80,0a1.9,1.9 0 1,0 -3.80,0M569.12,178.62a1.9,1.9 0 1,0 3.80,0a1.9,1.9 0 1,0 -3.80,0M573.96,183.80a1.9,1.9 0 1,0 3.80,0a1.9,1.9 0 1,0 -3.80,0M578.79,189.56a1.9,1.9 0 1,0 3.80,0a1.9,1.9 0 1,0 -3.80,0M583.63,196.69a1.9,1.9 0 1,0 3.80,0a1.9,1.9 0 1,0 -3.80,0M588.46,213.36a1.9,1.9 0 1,0 3.80,0a1.9,1.9 0 1,0 -3.80,0M598.13,218.75a1.9,1.9 0 1,0 3.80,0a1.9,1.9 0 1,0 -3.80,0M602.97,202.91a1.9,1.9 0 1,0 3.80,0a1.9,1.9 0 1,0 -3.80,0M607.80,194.80a1.9,1.9 0 1,0 3.80,0a1.9,1.9 0 1,0 -3.80,0M612.64,190.05a1.9,1.9 0 1,0 3.80,0a1.9,1.9 0 1,0 -3.80,0M617.47,187.24a1.9,1.9 0 1,0 3.80,0a1.9,1.9 0 1,0 -3.80,0M622.31,185.72a1.9,1.9 0 1,0 3.80,0a1.9,1.9 0 1,0 -3.80,0M627.14,184.00a1.9,1.9 0 1,0 3.80,0a1.9,1.9 0 1,0 -3.80,0M631.98,181.92a1.9,1.9 0 1,0 3.80,0a1.9,1.9 0 1,0 -3.80,0M636.81,179.58a1.9,1.9 0 1,0 3.80,0a1.9,1.9 0 1,0 -3.80,0M641.65,176.77a1.9,1.9 0 1,0 3.80,0a1.9,1.9 0 1,0 -3.80,0M646.48,172.59a1.9,1.9 0 1,0 3.80,0a1.9,1.9 0 1,0 -3.80,0M651.32,168.69a1.9,1.9 0 1,0 3.80,0a1.9,1.9 0 1,0 -3.80,0M656.15,171.36a1.9,1.9 0 1,0 3.80,0a1.9,1.9 0 1,0 -3.80,0M660.99,176.47a1.9,1.9 0 1,0 3.80,0a1.9,1.9 0 1,0 -3.80,0M665.82,193.00a1.9,1.9 0 1,0 3.80,0a1.9,1.9 0 1,0 -3.80,0M670.66,224.04a1.9,1.9 0 1,0 3.80,0a1.9,1.9 0 1,0 -3.80,0M675.49,207.31a1.9,1.9 0 1,0 3.80,0a1.9,1.9 0 1,0 -3.80,0M680.33,192.10a1.9,1.9 0 1,0 3.80,0a1.9,1.9 0 1,0 -3.80,0M414.40,172.31a1.9,1.9 0 1,0 3.80,0a1.9,1.9 0 1,0 -3.80,0M419.24,171.05a1.9,1.9 0 1,0 3.80,0a1.9,1.9 0 1,0 -3.80,0M424.07,171.10a1.9,1.9 0 1,0 3.80,0a1.9,1.9 0 1,0 -3.80,0M428.90,171.81a1.9,1.9 0 1,0 3.80,0a1.9,1.9 0 1,0 -3.80,0M433.74,174.22a1.9,1.9 0 1,0 3.80,0a1.9,1.9 0 1,0 -3.80,0M438.57,176.56a1.9,1.9 0 1,0 3.80,0a1.9,1.9 0 1,0 -3.80,0M443.41,177.39a1.9,1.9 0 1,0 3.80,0a1.9,1.9 0 1,0 -3.80,0M448.24,178.19a1.9,1.9 0 1,0 3.80,0a1.9,1.9 0 1,0 -3.80,0M453.08,179.82a1.9,1.9 0 1,0 3.80,0a1.9,1.9 0 1,0 -3.80,0M457.91,180.97a1.9,1.9 0 1,0 3.80,0a1.9,1.9 0 1,0 -3.80,0M462.75,181.53a1.9,1.9 0 1,0 3.80,0a1.9,1.9 0 1,0 -3.80,0M467.58,181.96a1.9,1.9 0 1,0 3.80,0a1.9,1.9 0 1,0 -3.80,0M472.42,182.41a1.9,1.9 0 1,0 3.80,0a1.9,1.9 0 1,0 -3.80,0M477.25,182.40a1.9,1.9 0 1,0 3.80,0a1.9,1.9 0 1,0 -3.80,0M482.09,181.20a1.9,1.9 0 1,0 3.80,0a1.9,1.9 0 1,0 -3.80,0M486.92,176.93a1.9,1.9 0 1,0 3.80,0a1.9,1.9 0 1,0 -3.80,0M491.76,169.78a1.9,1.9 0 1,0 3.80,0a1.9,1.9 0 1,0 -3.80,0M496.59,166.06a1.9,1.9 0 1,0 3.80,0a1.9,1.9 0 1,0 -3.80,0M501.43,167.07a1.9,1.9 0 1,0 3.80,0a1.9,1.9 0 1,0 -3.80,0M506.26,170.27a1.9,1.9 0 1,0 3.80,0a1.9,1.9 0 1,0 -3.80,0M511.10,174.30a1.9,1.9 0 1,0 3.80,0a1.9,1.9 0 1,0 -3.80,0M515.93,177.45a1.9,1.9 0 1,0 3.80,0a1.9,1.9 0 1,0 -3.80,0M520.77,178.26a1.9,1.9 0 1,0 3.80,0a1.9,1.9 0 1,0 -3.80,0M525.60,180.70a1.9,1.9 0 1,0 3.80,0a1.9,1.9 0 1,0 -3.80,0M530.44,183.12a1.9,1.9 0 1,0 3.80,0a1.9,1.9 0 1,0 -3.80,0M535.27,185.66a1.9,1.9 0 1,0 3.80,0a1.9,1.9 0 1,0 -3.80,0M540.11,189.85a1.9,1.9 0 1,0 3.80,0a1.9,1.9 0 1,0 -3.80,0M544.94,197.27a1.9,1.9 0 1,0 3.80,0a1.9,1.9 0 1,0 -3.80,0M549.78,215.16a1.9,1.9 0 1,0 3.80,0a1.9,1.9 0 1,0 -3.80,0M559.45,214.20a1.9,1.9 0 1,0 3.80,0a1.9,1.9 0 1,0 -3.80,0M564.29,192.50a1.9,1.9 0 1,0 3.80,0a1.9,1.9 0 1,0 -3.80,0M569.12,175.21a1.9,1.9 0 1,0 3.80,0a1.9,1.9 0 1,0 -3.80,0M573.96,166.82a1.9,1.9 0 1,0 3.80,0a1.9,1.9 0 1,0 -3.80,0M578.79,164.50a1.9,1.9 0 1,0 3.80,0a1.9,1.9 0 1,0 -3.80,0M583.63,167.76a1.9,1.9 0 1,0 3.80,0a1.9,1.9 0 1,0 -3.80,0M588.46,171.40a1.9,1.9 0 1,0 3.80,0a1.9,1.9 0 1,0 -3.80,0M593.30,175.14a1.9,1.9 0 1,0 3.80,0a1.9,1.9 0 1,0 -3.80,0M598.13,178.05a1.9,1.9 0 1,0 3.80,0a1.9,1.9 0 1,0 -3.80,0M602.97,180.05a1.9,1.9 0 1,0 3.80,0a1.9,1.9 0 1,0 -3.80,0M607.80,178.75a1.9,1.9 0 1,0 3.80,0a1.9,1.9 0 1,0 -3.80,0M612.64,177.19a1.9,1.9 0 1,0 3.80,0a1.9,1.9 0 1,0 -3.80,0M617.47,176.49a1.9,1.9 0 1,0 3.80,0a1.9,1.9 0 1,0 -3.80,0M622.31,177.90a1.9,1.9 0 1,0 3.80,0a1.9,1.9 0 1,0 -3.80,0M627.14,179.14a1.9,1.9 0 1,0 3.80,0a1.9,1.9 0 1,0 -3.80,0M631.98,179.16a1.9,1.9 0 1,0 3.80,0a1.9,1.9 0 1,0 -3.80,0M636.81,179.50a1.9,1.9 0 1,0 3.80,0a1.9,1.9 0 1,0 -3.80,0M641.65,180.59a1.9,1.9 0 1,0 3.80,0a1.9,1.9 0 1,0 -3.80,0M646.48,182.13a1.9,1.9 0 1,0 3.80,0a1.9,1.9 0 1,0 -3.80,0M651.32,182.77a1.9,1.9 0 1,0 3.80,0a1.9,1.9 0 1,0 -3.80,0M656.15,183.04a1.9,1.9 0 1,0 3.80,0a1.9,1.9 0 1,0 -3.80,0M660.99,183.85a1.9,1.9 0 1,0 3.80,0a1.9,1.9 0 1,0 -3.80,0M665.82,186.35a1.9,1.9 0 1,0 3.80,0a1.9,1.9 0 1,0 -3.80,0M670.66,188.99a1.9,1.9 0 1,0 3.80,0a1.9,1.9 0 1,0 -3.80,0M675.49,190.08a1.9,1.9 0 1,0 3.80,0a1.9,1.9 0 1,0 -3.80,0M680.33,190.65a1.9,1.9 0 1,0 3.80,0a1.9,1.9 0 1,0 -3.80,0M414.40,175.35a1.9,1.9 0 1,0 3.80,0a1.9,1.9 0 1,0 -3.80,0M419.24,175.85a1.9,1.9 0 1,0 3.80,0a1.9,1.9 0 1,0 -3.80,0M424.07,176.60a1.9,1.9 0 1,0 3.80,0a1.9,1.9 0 1,0 -3.80,0M428.90,177.38a1.9,1.9 0 1,0 3.80,0a1.9,1.9 0 1,0 -3.80,0M433.74,177.38a1.9,1.9 0 1,0 3.80,0a1.9,1.9 0 1,0 -3.80,0M438.57,178.11a1.9,1.9 0 1,0 3.80,0a1.9,1.9 0 1,0 -3.80,0M443.41,178.88a1.9,1.9 0 1,0 3.80,0a1.9,1.9 0 1,0 -3.80,0M448.24,179.82a1.9,1.9 0 1,0 3.80,0a1.9,1.9 0 1,0 -3.80,0M453.08,180.20a1.9,1.9 0 1,0 3.80,0a1.9,1.9 0 1,0 -3.80,0M457.91,182.31a1.9,1.9 0 1,0 3.80,0a1.9,1.9 0 1,0 -3.80,0M462.75,188.79a1.9,1.9 0 1,0 3.80,0a1.9,1.9 0 1,0 -3.80,0M467.58,194.47a1.9,1.9 0 1,0 3.80,0a1.9,1.9 0 1,0 -3.80,0M472.42,199.28a1.9,1.9 0 1,0 3.80,0a1.9,1.9 0 1,0 -3.80,0M477.25,194.88a1.9,1.9 0 1,0 3.80,0a1.9,1.9 0 1,0 -3.80,0M482.09,188.51a1.9,1.9 0 1,0 3.80,0a1.9,1.9 0 1,0 -3.80,0M486.92,184.58a1.9,1.9 0 1,0 3.80,0a1.9,1.9 0 1,0 -3.80,0M491.76,186.06a1.9,1.9 0 1,0 3.80,0a1.9,1.9 0 1,0 -3.80,0M496.59,189.98a1.9,1.9 0 1,0 3.80,0a1.9,1.9 0 1,0 -3.80,0M501.43,196.36a1.9,1.9 0 1,0 3.80,0a1.9,1.9 0 1,0 -3.80,0M506.26,201.28a1.9,1.9 0 1,0 3.80,0a1.9,1.9 0 1,0 -3.80,0M511.10,207.50a1.9,1.9 0 1,0 3.80,0a1.9,1.9 0 1,0 -3.80,0M515.93,201.45a1.9,1.9 0 1,0 3.80,0a1.9,1.9 0 1,0 -3.80,0M520.77,195.02a1.9,1.9 0 1,0 3.80,0a1.9,1.9 0 1,0 -3.80,0M525.60,196.20a1.9,1.9 0 1,0 3.80,0a1.9,1.9 0 1,0 -3.80,0M530.44,196.94a1.9,1.9 0 1,0 3.80,0a1.9,1.9 0 1,0 -3.80,0M535.27,189.03a1.9,1.9 0 1,0 3.80,0a1.9,1.9 0 1,0 -3.80,0M540.11,187.00a1.9,1.9 0 1,0 3.80,0a1.9,1.9 0 1,0 -3.80,0M544.94,186.02a1.9,1.9 0 1,0 3.80,0a1.9,1.9 0 1,0 -3.80,0M549.78,185.22a1.9,1.9 0 1,0 3.80,0a1.9,1.9 0 1,0 -3.80,0M554.62,184.47a1.9,1.9 0 1,0 3.80,0a1.9,1.9 0 1,0 -3.80,0M559.45,183.84a1.9,1.9 0 1,0 3.80,0a1.9,1.9 0 1,0 -3.80,0M564.29,183.40a1.9,1.9 0 1,0 3.80,0a1.9,1.9 0 1,0 -3.80,0M569.12,182.87a1.9,1.9 0 1,0 3.80,0a1.9,1.9 0 1,0 -3.80,0M573.96,182.15a1.9,1.9 0 1,0 3.80,0a1.9,1.9 0 1,0 -3.80,0M578.79,181.39a1.9,1.9 0 1,0 3.80,0a1.9,1.9 0 1,0 -3.80,0M583.63,180.50a1.9,1.9 0 1,0 3.80,0a1.9,1.9 0 1,0 -3.80,0M588.46,180.00a1.9,1.9 0 1,0 3.80,0a1.9,1.9 0 1,0 -3.80,0M593.30,180.37a1.9,1.9 0 1,0 3.80,0a1.9,1.9 0 1,0 -3.80,0M598.13,181.00a1.9,1.9 0 1,0 3.80,0a1.9,1.9 0 1,0 -3.80,0M602.97,181.62a1.9,1.9 0 1,0 3.80,0a1.9,1.9 0 1,0 -3.80,0M607.80,182.00a1.9,1.9 0 1,0 3.80,0a1.9,1.9 0 1,0 -3.80,0M612.64,181.14a1.9,1.9 0 1,0 3.80,0a1.9,1.9 0 1,0 -3.80,0M617.47,180.51a1.9,1.9 0 1,0 3.80,0a1.9,1.9 0 1,0 -3.80,0M622.31,181.07a1.9,1.9 0 1,0 3.80,0a1.9,1.9 0 1,0 -3.80,0M627.14,181.58a1.9,1.9 0 1,0 3.80,0a1.9,1.9 0 1,0 -3.80,0M631.98,181.73a1.9,1.9 0 1,0 3.80,0a1.9,1.9 0 1,0 -3.80,0M636.81,182.22a1.9,1.9 0 1,0 3.80,0a1.9,1.9 0 1,0 -3.80,0M641.65,183.19a1.9,1.9 0 1,0 3.80,0a1.9,1.9 0 1,0 -3.80,0M646.48,184.43a1.9,1.9 0 1,0 3.80,0a1.9,1.9 0 1,0 -3.80,0M651.32,185.95a1.9,1.9 0 1,0 3.80,0a1.9,1.9 0 1,0 -3.80,0M656.15,187.63a1.9,1.9 0 1,0 3.80,0a1.9,1.9 0 1,0 -3.80,0M660.99,189.49a1.9,1.9 0 1,0 3.80,0a1.9,1.9 0 1,0 -3.80,0M665.82,190.99a1.9,1.9 0 1,0 3.80,0a1.9,1.9 0 1,0 -3.80,0M670.66,192.03a1.9,1.9 0 1,0 3.80,0a1.9,1.9 0 1,0 -3.80,0M675.49,192.76a1.9,1.9 0 1,0 3.80,0a1.9,1.9 0 1,0 -3.80,0M680.33,193.23a1.9,1.9 0 1,0 3.80,0a1.9,1.9 0 1,0 -3.80,0" stroke="#1e1e1e" stroke-width="0.8" fill="none"/>
<path d="M54.50,94.10v-3M54.50,11.30v3M114.94,94.10v-3M114.94,11.30v3M175.39,94.10v-3M175.39,11.30v3M235.83,94.10v-3M235.83,11.30v3M296.28,94.10v-3M296.28,11.30v3M54.50,11.30h3M326.50,11.30h-3M54.50,38.90h3M326.50,38.90h-3M54.50,66.50h3M326.50,66.50h-3M54.50,94.10h3M326.50,94.10h-3" stroke="#555" stroke-width="0.9" fill="none"/>
<path d="M54.00,11.30H327.00M54.00,94.10H327.00" stroke="#3a3a3a" stroke-width="1.0" fill="none"/>
<path d="M54.50,11.30V94.10" stroke="#858585" stroke-width="1.0" fill="none"/>
<path d="M326.50,11.30V94.10" stroke="#555" stroke-width="1.0" fill="none"/>
<text x="53.80" y="114.90" text-anchor="middle" font-size="16.3">1</text>
<text x="114.24" y="114.90" text-anchor="middle" font-size="16.3">2</text>
<text x="174.69" y="114.90" text-anchor="middle" font-size="16.3">3</text>
<text x="235.13" y="114.90" text-anchor="middle" font-size="16.3">4</text>
<text x="295.58" y="114.90" text-anchor="middle" font-size="16.3">5</text>
<text x="48.60" y="17.55" text-anchor="end" font-size="16.3">0</text>
<text x="48.60" y="45.15" text-anchor="end" font-size="16.3">-10</text>
<text x="48.60" y="72.75" text-anchor="end" font-size="16.3">-20</text>
<text x="48.60" y="100.35" text-anchor="end" font-size="16.3">-30</text>
<text x="189.70" y="135.00" text-anchor="middle" font-size="17.4">Frequency [GHz]</text>
<text transform="translate(12.80,52.20) rotate(-90)" text-anchor="middle" font-size="17.4">|<tspan font-style="italic">S</tspan><tspan dy="8" dx="1.2" font-size="12.6">11</tspan><tspan dy="-8" dx="1.8">| [dB]</tspan></text>
<path d="M412.50,94.10v-3M412.50,11.30v3M472.94,94.10v-3M472.94,11.30v3M533.39,94.10v-3M533.39,11.30v3M593.83,94.10v-3M593.83,11.30v3M654.28,94.10v-3M654.28,11.30v3M412.50,11.30h3M685.20,11.30h-3M412.50,52.70h3M685.20,52.70h-3M412.50,94.10h3M685.20,94.10h-3" stroke="#555" stroke-width="0.9" fill="none"/>
<path d="M412.00,11.30H685.70M412.00,94.10H685.70" stroke="#3a3a3a" stroke-width="1.0" fill="none"/>
<path d="M412.50,11.30V94.10" stroke="#858585" stroke-width="1.0" fill="none"/>
<path d="M685.20,11.30V94.10" stroke="#555" stroke-width="1.0" fill="none"/>
<text x="411.80" y="114.90" text-anchor="middle" font-size="16.3">1</text>
<text x="472.24" y="114.90" text-anchor="middle" font-size="16.3">2</text>
<text x="532.69" y="114.90" text-anchor="middle" font-size="16.3">3</text>
<text x="593.13" y="114.90" text-anchor="middle" font-size="16.3">4</text>
<text x="653.58" y="114.90" text-anchor="middle" font-size="16.3">5</text>
<text x="406.60" y="17.55" text-anchor="end" font-size="16.3">0</text>
<text x="406.60" y="58.95" text-anchor="end" font-size="16.3">-5</text>
<text x="406.60" y="100.35" text-anchor="end" font-size="16.3">-10</text>
<text x="547.70" y="135.00" text-anchor="middle" font-size="17.4">Frequency [GHz]</text>
<text transform="translate(370.80,52.70) rotate(-90)" text-anchor="middle" font-size="17.4">|<tspan font-style="italic">S</tspan><tspan dy="8" dx="1.2" font-size="12.6">21</tspan><tspan dy="-8" dx="1.8">|,</tspan><tspan dx="1.2"> |</tspan><tspan font-style="italic">S</tspan><tspan dy="8" dx="1.2" font-size="12.6">31</tspan><tspan dy="-8" dx="1.8">| [dB]</tspan></text>
<path d="M54.50,237.50v-3M54.50,154.00v3M114.94,237.50v-3M114.94,154.00v3M175.39,237.50v-3M175.39,154.00v3M235.83,237.50v-3M235.83,154.00v3M296.28,237.50v-3M296.28,154.00v3M54.50,154.00h3M326.50,154.00h-3M54.50,181.83h3M326.50,181.83h-3M54.50,209.67h3M326.50,209.67h-3M54.50,237.50h3M326.50,237.50h-3" stroke="#555" stroke-width="0.9" fill="none"/>
<path d="M54.00,154.00H327.00M54.00,237.50H327.00" stroke="#3a3a3a" stroke-width="1.0" fill="none"/>
<path d="M54.50,154.00V237.50" stroke="#858585" stroke-width="1.0" fill="none"/>
<path d="M326.50,154.00V237.50" stroke="#555" stroke-width="1.0" fill="none"/>
<text x="53.80" y="258.30" text-anchor="middle" font-size="16.3">1</text>
<text x="114.24" y="258.30" text-anchor="middle" font-size="16.3">2</text>
<text x="174.69" y="258.30" text-anchor="middle" font-size="16.3">3</text>
<text x="235.13" y="258.30" text-anchor="middle" font-size="16.3">4</text>
<text x="295.58" y="258.30" text-anchor="middle" font-size="16.3">5</text>
<text x="48.60" y="160.25" text-anchor="end" font-size="16.3">0</text>
<text x="48.60" y="188.08" text-anchor="end" font-size="16.3">-10</text>
<text x="48.60" y="215.92" text-anchor="end" font-size="16.3">-20</text>
<text x="48.60" y="243.75" text-anchor="end" font-size="16.3">-30</text>
<text x="189.70" y="278.40" text-anchor="middle" font-size="17.4">Frequency [GHz]</text>
<text transform="translate(12.80,195.75) rotate(-90)" text-anchor="middle" font-size="17.4">|<tspan font-style="italic">S</tspan><tspan dy="8" dx="1.2" font-size="12.6">22</tspan><tspan dy="-8" dx="1.8">|,</tspan><tspan dx="1.2"> |</tspan><tspan font-style="italic">S</tspan><tspan dy="8" dx="1.2" font-size="12.6">33</tspan><tspan dy="-8" dx="1.8">| [dB]</tspan></text>
<path d="M412.50,237.50v-3M412.50,154.00v3M472.94,237.50v-3M472.94,154.00v3M533.39,237.50v-3M533.39,154.00v3M593.83,237.50v-3M593.83,154.00v3M654.28,237.50v-3M654.28,154.00v3M412.50,154.00h3M685.20,154.00h-3M412.50,181.83h3M685.20,181.83h-3M412.50,209.67h3M685.20,209.67h-3M412.50,237.50h3M685.20,237.50h-3" stroke="#555" stroke-width="0.9" fill="none"/>
<path d="M412.00,154.00H685.70M412.00,237.50H685.70" stroke="#3a3a3a" stroke-width="1.0" fill="none"/>
<path d="M412.50,154.00V237.50" stroke="#858585" stroke-width="1.0" fill="none"/>
<path d="M685.20,154.00V237.50" stroke="#555" stroke-width="1.0" fill="none"/>
<text x="411.80" y="258.30" text-anchor="middle" font-size="16.3">1</text>
<text x="472.24" y="258.30" text-anchor="middle" font-size="16.3">2</text>
<text x="532.69" y="258.30" text-anchor="middle" font-size="16.3">3</text>
<text x="593.13" y="258.30" text-anchor="middle" font-size="16.3">4</text>
<text x="653.58" y="258.30" text-anchor="middle" font-size="16.3">5</text>
<text x="406.60" y="160.25" text-anchor="end" font-size="16.3">0</text>
<text x="406.60" y="188.08" text-anchor="end" font-size="16.3">-10</text>
<text x="406.60" y="215.92" text-anchor="end" font-size="16.3">-20</text>
<text x="406.60" y="243.75" text-anchor="end" font-size="16.3">-30</text>
<text x="547.70" y="278.40" text-anchor="middle" font-size="17.4">Frequency [GHz]</text>
<text transform="translate(370.80,195.75) rotate(-90)" text-anchor="middle" font-size="17.4">|<tspan font-style="italic">S</tspan><tspan dy="8" dx="1.2" font-size="12.6">32</tspan><tspan dy="-8" dx="1.8">| [dB]</tspan></text>
</svg>
</body></html>
